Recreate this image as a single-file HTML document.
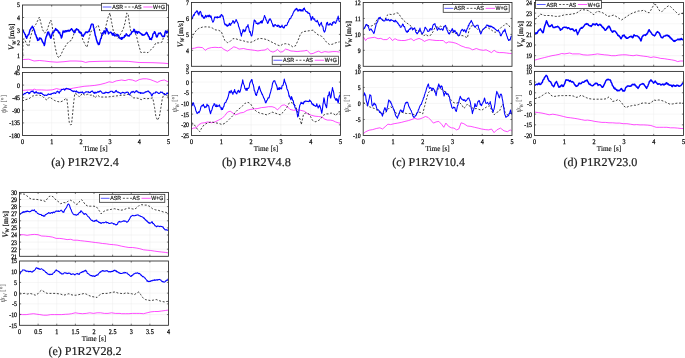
<!DOCTYPE html>
<html><head><meta charset="utf-8"><style>
html,body{margin:0;padding:0;background:#fff;}
svg{display:block;text-rendering:geometricPrecision;will-change:transform;}
.sf{font-family:"Liberation Serif",serif;}
.ss{font-family:"Liberation Sans",sans-serif;}
</style></head><body>
<svg width="685" height="358" viewBox="0 0 685 358">
<rect width="685" height="358" fill="#fff"/>
<defs><clipPath id="clip_a1"><rect x="22.5" y="5" width="146" height="62.65"/></clipPath><clipPath id="clip_a2"><rect x="22.5" y="72.5" width="146" height="63"/></clipPath><clipPath id="clip_b1"><rect x="191.5" y="2.5" width="149" height="63.8"/></clipPath><clipPath id="clip_b2"><rect x="191.5" y="71.4" width="149" height="64.1"/></clipPath><clipPath id="clip_c1"><rect x="363.2" y="2.5" width="148.8" height="63.8"/></clipPath><clipPath id="clip_c2"><rect x="363.2" y="71.4" width="148.8" height="64.1"/></clipPath><clipPath id="clip_d1"><rect x="534.5" y="2.5" width="149" height="63.8"/></clipPath><clipPath id="clip_d2"><rect x="534.5" y="71.4" width="149" height="64.1"/></clipPath><clipPath id="clip_e1"><rect x="19.5" y="192.4" width="149" height="63.9"/></clipPath><clipPath id="clip_e2"><rect x="19.5" y="261" width="149" height="64.3"/></clipPath></defs>
<path d="M51.7 5V67.65M80.9 5V67.65M110.1 5V67.65M139.3 5V67.65M22.5 55.12H168.5M22.5 42.59H168.5M22.5 30.06H168.5M22.5 17.53H168.5" stroke="#ebebeb" stroke-width="0.45" fill="none"/>
<g clip-path="url(#clip_a1)">
<path d="M22.1 59.6 L28.8 59.2 L34.1 61 L39.4 60.5 L44.6 61 L50 61.7 L57 62.2 L64 61.7 L70 61 L76 61 L82 61.3 L85.6 62.4 L89 61.7 L100 61.3 L118 61.1 L128.6 61.4 L139.2 62.5 L153 62.7 L164 63.2 L168.8 63.7" stroke="#ff00ff" stroke-width="0.7" fill="none"/>
<path d="M22.6 58 L22.8 48 L23 39 L24.5 39 L26.2 43 L27.5 45.5 L28.8 46.4 L30.6 36.7 L33.2 27.9 L35.8 24.4 L37.6 20.8 L39.4 17 L40.8 22.6 L42.5 29.6 L44.6 33.2 L47.3 29.6 L49 24.4 L50.8 20 L52 24.4 L53.5 36.7 L55.2 47.3 L57 55.2 L58.7 57.8 L60.8 55.2 L63.1 49.9 L65.8 45.5 L68.4 42 L71.5 40.2 L73.3 35.8 L75 29.6 L77.7 29.6 L80.3 32.3 L83 40.2 L85.6 45.5 L87 47.3 L88.8 39.3 L90.9 31.4 L93.5 30.5 L96.2 27 L98.3 25.2 L100 31.4 L102.3 35.8 L104.1 33.2 L105.9 26.1 L108.1 17.3 L109.9 12.9 L111.7 22.6 L113.4 31.4 L115.2 33.2 L118 38.5 L120.6 34.1 L123.3 28.8 L125.1 22.6 L126.8 12.9 L128.2 14.7 L129.5 24.4 L131.2 33.2 L133.9 30.6 L136.5 35.9 L138.3 43.8 L140.9 52.6 L144.5 52.3 L148 52.6 L150.6 50 L153.3 47.3 L155.9 42.9 L159.4 42.9 L162.1 42 L164.2 35 L166 30.6 L168.3 40.3" stroke="#111" stroke-width="0.8" stroke-dasharray="2 1.7" fill="none"/>
<path d="M22.1 30.19 L22.56 30.24 L23.02 30.26 L23.48 31.69 L23.94 32.38 L24.4 32.89 L24.86 34.37 L25.32 34.39 L25.78 36.85 L26.24 36.58 L26.7 38.24 L27.23 36.23 L27.75 35.67 L28.27 34.68 L28.8 34.46 L29.25 32.86 L29.7 31.04 L30.15 29.62 L30.6 29.14 L31.17 27.89 L31.73 27.8 L32.3 26.2 L32.75 27.63 L33.2 27.6 L33.65 28.74 L34.1 30.17 L34.67 31.28 L35.23 34.22 L35.8 34.84 L36.25 36.17 L36.7 37.93 L37.15 37.78 L37.6 40.43 L38.05 40.29 L38.5 39.69 L38.95 39.78 L39.4 37.93 L39.97 38.65 L40.53 38.17 L41.1 38.63 L41.55 39.33 L42 40.43 L42.45 41.77 L42.9 42.45 L43.37 42.99 L43.83 43.61 L44.3 45.51 L44.75 43.79 L45.2 40.97 L45.65 38.61 L46.1 36.97 L46.62 35.93 L47.15 34.62 L47.68 32.26 L48.2 32.33 L48.67 31.98 L49.13 34.76 L49.6 34.05 L50.2 36.88 L50.8 38.34 L51.25 37.34 L51.7 35.24 L52.15 33.7 L52.6 32.4 L53.17 33 L53.73 32.35 L54.3 30.46 L54.75 30.54 L55.2 30.03 L55.65 28.59 L56.1 29.19 L56.55 30.28 L57 29.8 L57.45 30.75 L57.9 30.51 L58.47 32.26 L59.03 32.97 L59.6 32.31 L60.05 34.03 L60.5 35.16 L60.95 35.84 L61.4 38.06 L61.97 36.67 L62.53 33.84 L63.1 30.9 L63.55 32.05 L64 31.41 L64.45 31.32 L64.9 32.19 L65.35 30.83 L65.8 31.11 L66.25 30.87 L66.7 31.59 L67.27 30.67 L67.83 30.59 L68.4 31.1 L68.87 30.15 L69.33 31.11 L69.8 30.66 L70.37 30.12 L70.93 29.54 L71.5 28.71 L71.95 29.22 L72.4 29.88 L72.85 30.8 L73.3 31.1 L73.87 32.1 L74.43 32.45 L75 32.45 L75.45 29.98 L75.9 30.24 L76.35 28.89 L76.8 28.8 L77.25 29.67 L77.7 29.84 L78.15 29.65 L78.6 30.26 L79.17 32.33 L79.73 31.55 L80.3 33.15 L80.75 32.52 L81.2 32.75 L81.65 34.13 L82.1 35.63 L82.67 35.33 L83.23 36.39 L83.8 35.29 L84.25 34.12 L84.7 34.1 L85.15 33.14 L85.6 32.07 L86.05 31.88 L86.5 31.97 L86.95 32.52 L87.4 32.64 L87.97 31.79 L88.53 31.18 L89.1 31.53 L89.55 29.36 L90 29.09 L90.45 27.76 L90.9 25.68 L91.47 24.26 L92.03 24.1 L92.6 24.14 L93.1 24.33 L93.6 27.73 L94.1 28.82 L94.7 32.12 L95.3 35.57 L95.87 36.87 L96.43 39.55 L97 41.24 L97.45 42.93 L97.9 42.54 L98.35 44.58 L98.8 44.46 L99.25 44.27 L99.7 42.58 L100.15 40.69 L100.6 38.82 L101.17 38.34 L101.73 35.36 L102.3 33.01 L102.75 33.02 L103.2 33.31 L103.65 32.19 L104.1 30.74 L104.7 31.85 L105.3 33.74 L105.77 31.91 L106.23 29.72 L106.7 28.56 L107.15 30.43 L107.6 31.15 L108.05 31.76 L108.5 33.89 L108.95 32.85 L109.4 32.85 L109.85 32.58 L110.3 32.23 L110.87 32.14 L111.43 32.92 L112 33.88 L112.45 35.11 L112.9 33.49 L113.35 35.01 L113.8 33.16 L114.37 35.55 L114.93 36.02 L115.5 35.15 L116 34.9 L116.5 34.75 L117 34.25 L117.5 35.67 L118 35.02 L118.45 35.24 L118.9 36.38 L119.35 37.92 L119.8 38.11 L120.37 38.59 L120.93 37.89 L121.5 39.37 L121.95 37.44 L122.4 38.76 L122.85 37.61 L123.3 37.36 L123.75 37.53 L124.2 37.27 L124.65 35.38 L125.1 36.19 L125.67 35.67 L126.23 33.82 L126.8 34.47 L127.25 34.84 L127.7 35.43 L128.15 35.98 L128.6 35.74 L129.17 36.07 L129.73 34.98 L130.3 34.3 L130.75 34.08 L131.2 33.72 L131.65 31.93 L132.1 31.74 L132.55 31.85 L133 31.43 L133.45 31.07 L133.9 29.26 L134.47 29.79 L135.03 31.39 L135.6 32.96 L136.05 31.85 L136.5 31.4 L136.95 31.61 L137.4 33.41 L137.85 32.1 L138.3 31.74 L138.75 31.9 L139.2 32.1 L139.77 32.57 L140.33 33.31 L140.9 33.35 L141.35 34.2 L141.8 34.7 L142.25 34.2 L142.7 35.23 L143.15 34.94 L143.6 35.18 L144.05 34.91 L144.5 34.85 L145.07 34.24 L145.63 33.69 L146.2 32.75 L146.65 32.39 L147.1 33.02 L147.55 34.48 L148 34.68 L148.57 36.48 L149.13 36.61 L149.7 39.18 L150.15 39.24 L150.6 38.54 L151.05 39.41 L151.5 39.57 L151.95 37.46 L152.4 37.31 L152.85 34.38 L153.3 33.72 L153.87 33.44 L154.43 31.74 L155 32.08 L155.45 33.48 L155.9 34.62 L156.35 36.6 L156.8 37.05 L157.25 36.76 L157.7 35.34 L158.15 34.32 L158.6 33.2 L159.17 33.47 L159.73 33.48 L160.3 32.83 L160.75 33.74 L161.2 33.89 L161.65 35.21 L162.1 35.89 L162.55 36.54 L163 36.46 L163.45 36.64 L163.9 36.63 L164.47 36.18 L165.03 32.91 L165.6 30.95 L166.05 31.58 L166.5 31.28 L166.95 32.91 L167.4 31.94 L167.87 31.19 L168.33 32.21 L168.8 31.28" stroke="#0000ff" stroke-width="1.45" fill="none" stroke-linejoin="round"/>
</g>
<path d="M51.7 67.65v-1.6M51.7 5v1.6M80.9 67.65v-1.6M80.9 5v1.6M110.1 67.65v-1.6M110.1 5v1.6M139.3 67.65v-1.6M139.3 5v1.6M22.5 55.12h1.6M168.5 55.12h-1.6M22.5 42.59h1.6M168.5 42.59h-1.6M22.5 30.06h1.6M168.5 30.06h-1.6M22.5 17.53h1.6M168.5 17.53h-1.6" stroke="#262626" stroke-width="0.6" fill="none"/>
<rect x="22.5" y="5" width="146" height="62.65" stroke="#262626" stroke-width="0.85" fill="none"/>
<text transform="translate(20 70.1) scale(0.86 1)" font-size="6.8" text-anchor="end" class="sf" fill="#000" stroke="#000" stroke-width="0.25">0</text>
<text transform="translate(20 57.57) scale(0.86 1)" font-size="6.8" text-anchor="end" class="sf" fill="#000" stroke="#000" stroke-width="0.25">1</text>
<text transform="translate(20 45.04) scale(0.86 1)" font-size="6.8" text-anchor="end" class="sf" fill="#000" stroke="#000" stroke-width="0.25">2</text>
<text transform="translate(20 32.51) scale(0.86 1)" font-size="6.8" text-anchor="end" class="sf" fill="#000" stroke="#000" stroke-width="0.25">3</text>
<text transform="translate(20 19.98) scale(0.86 1)" font-size="6.8" text-anchor="end" class="sf" fill="#000" stroke="#000" stroke-width="0.25">4</text>
<text transform="translate(20 7.45) scale(0.86 1)" font-size="6.8" text-anchor="end" class="sf" fill="#000" stroke="#000" stroke-width="0.25">5</text>
<path d="M51.7 72.5V135.5M80.9 72.5V135.5M110.1 72.5V135.5M139.3 72.5V135.5M22.5 122.9H168.5M22.5 110.3H168.5M22.5 97.7H168.5M22.5 85.1H168.5" stroke="#ebebeb" stroke-width="0.45" fill="none"/>
<g clip-path="url(#clip_a2)">
<path d="M22.1 90.4 L25.4 90.2 L28.9 89.9 L32.5 89.9 L34.3 89.1 L36.1 89.9 L41.4 89.9 L46.8 90.2 L52.1 89.9 L56.6 88.6 L59.3 89.3 L62.9 89.3 L66.4 89 L68 89.3 L73.4 88.1 L78.7 87.2 L84.1 86.3 L89.4 85.9 L94.8 85.4 L100.1 84.5 L105.5 83.1 L109.1 81.8 L112.6 82.4 L116.2 80.9 L118 80.6 L121.6 80 L125.1 80.6 L128.7 79.5 L132.3 80 L135.9 81.3 L139.4 79.5 L143 78.8 L146.6 78.8 L150.1 79.5 L153.7 80.9 L157.3 82.4 L160.9 80.6 L164.4 80 L168 81.8" stroke="#ff00ff" stroke-width="0.7" fill="none"/>
<path d="M22.1 101.1 L25.4 99.7 L28.9 98.8 L32.5 96.1 L36.1 95.2 L39.6 95.2 L42.3 96.1 L45 98.8 L46.8 100 L49.5 97 L52.1 98.8 L54.8 100.6 L57.5 101.5 L60.2 102 L62.9 100.9 L65.5 98.8 L66.8 98.4 L67.9 107.7 L68.6 116.6 L69.3 122.5 L70.5 124.8 L71.5 124.5 L72.5 114.9 L73.7 102.4 L74.8 93.4 L76.9 94.3 L79.6 97 L82.3 93.4 L85 95.2 L87.6 94.3 L90.3 95.2 L93 94.9 L94.8 97.9 L97.5 95.2 L100.1 97 L103.7 97 L107.3 97 L110.9 96.6 L114.4 96.1 L118 95.8 L121.6 95.2 L125.1 95.2 L127.8 94.3 L130.5 95.2 L133.2 97.9 L135.9 97.9 L138.5 98.4 L141.2 99.7 L143.9 98.4 L146.6 98.8 L150.1 98.4 L152.8 97.9 L154.6 107.7 L155.9 116.6 L157.6 120.2 L159.4 116.6 L160.9 107.7 L162.3 98.8 L164.1 93.4 L166.2 94.3 L168.9 98.8" stroke="#111" stroke-width="0.8" stroke-dasharray="2 1.7" fill="none"/>
<path d="M22.1 95.17 L22.58 94.96 L23.06 94.92 L23.54 94.51 L24.02 93.93 L24.5 93.35 L25.02 93.87 L25.54 93.44 L26.06 92.82 L26.58 92.5 L27.1 92.48 L27.55 92.15 L28 92.44 L28.45 92.62 L28.9 93.8 L29.35 92.75 L29.8 93.32 L30.25 92.3 L30.7 91.76 L31.15 91.64 L31.6 91.24 L32.05 91.75 L32.5 91.4 L32.95 90.76 L33.4 91.78 L33.85 92.3 L34.3 93.2 L34.75 92.4 L35.2 92.86 L35.65 92.05 L36.1 91.51 L36.55 92.48 L37 93 L37.45 92.72 L37.9 93.16 L38.47 92.76 L39.03 93.58 L39.6 93.35 L40.05 92.8 L40.5 93.49 L40.95 92.84 L41.4 93.53 L41.85 93 L42.3 93.84 L42.75 94.43 L43.2 94.53 L43.65 94.73 L44.1 95.31 L44.55 95.58 L45 95.02 L45.45 95.15 L45.9 95.21 L46.35 95.45 L46.8 95.13 L47.25 94.9 L47.7 94.95 L48.15 93.9 L48.6 93.95 L49.05 94.24 L49.5 94.45 L49.95 94.42 L50.4 93.98 L50.97 94.65 L51.53 93.76 L52.1 93.44 L52.55 93.31 L53 93.66 L53.45 92.99 L53.9 92.89 L54.35 92.69 L54.8 93.17 L55.25 93.55 L55.7 93.57 L56.15 92.18 L56.6 91.87 L57.05 91.99 L57.5 91.14 L57.95 91.77 L58.4 91.82 L58.85 92.75 L59.3 93.18 L59.75 91.78 L60.2 91.09 L60.65 91.2 L61.1 90.49 L61.55 89.43 L62 89.62 L62.45 89.41 L62.9 89.24 L63.47 89 L64.03 89.07 L64.6 90.15 L65.05 89.76 L65.5 88.86 L65.95 89.01 L66.4 88.21 L66.93 88.46 L67.47 88.8 L68 88.69 L68.54 88.74 L69.08 89.46 L69.62 89.19 L70.16 89.55 L70.7 89.49 L71.24 90.54 L71.78 90.64 L72.32 91.22 L72.86 90.87 L73.4 91.55 L73.92 91.19 L74.44 90.99 L74.96 91.27 L75.48 91.83 L76 91.26 L76.54 90.84 L77.08 92.3 L77.62 92.1 L78.16 91.94 L78.7 92.85 L79.24 93 L79.78 92.26 L80.32 92.65 L80.86 92.08 L81.4 92.3 L81.94 92.75 L82.48 91.91 L83.02 92.96 L83.56 93.46 L84.1 92.98 L84.64 92.86 L85.18 92.31 L85.72 91.85 L86.26 91.78 L86.8 91.92 L87.32 91.92 L87.84 92.05 L88.36 91.61 L88.88 92.72 L89.4 92.57 L89.94 92.23 L90.48 92.47 L91.02 91.5 L91.56 91.51 L92.1 90.79 L92.64 91.67 L93.18 91.95 L93.72 92.98 L94.26 92.21 L94.8 93.4 L95.34 92.99 L95.88 92.17 L96.42 92.84 L96.96 92.52 L97.5 92.14 L98.02 91.44 L98.54 92.28 L99.06 91.62 L99.58 91.86 L100.1 90.77 L100.64 91.1 L101.18 91.75 L101.72 92.17 L102.26 93.11 L102.8 93.35 L103.34 93.15 L103.88 93.54 L104.42 92.78 L104.96 93.2 L105.5 92.27 L106.04 92.11 L106.58 92.6 L107.12 92.43 L107.66 92.93 L108.2 92.49 L108.74 92.94 L109.28 91.94 L109.82 92.11 L110.36 91.56 L110.9 91.28 L111.42 91.22 L111.94 91.26 L112.46 91.55 L112.98 92.41 L113.5 92.25 L114.04 92.71 L114.58 91.98 L115.12 92.05 L115.66 90.65 L116.2 90.4 L116.65 91.53 L117.1 91.84 L117.55 92.29 L118 91.76 L118.54 92.43 L119.08 92.75 L119.62 92.62 L120.16 93.26 L120.7 93.8 L121.15 93.08 L121.6 93.01 L122.05 92.82 L122.5 92.24 L123.02 92.36 L123.54 92.65 L124.06 92.59 L124.58 93.3 L125.1 93.17 L125.64 92.7 L126.18 92.12 L126.72 92.45 L127.26 92.24 L127.8 92.1 L128.25 92.39 L128.7 93.7 L129.15 94.54 L129.6 94.89 L130.05 94.09 L130.5 93.07 L130.95 92.76 L131.4 91.84 L131.94 91.95 L132.48 92.28 L133.02 91.32 L133.56 91.66 L134.1 92.36 L134.64 92.64 L135.18 91.83 L135.72 90.97 L136.26 91.15 L136.8 90.7 L137.32 92.02 L137.84 91.79 L138.36 92.17 L138.88 92.82 L139.4 92.76 L139.94 92.3 L140.48 93.46 L141.02 92.64 L141.56 93.26 L142.1 92.9 L142.64 93.29 L143.18 93.03 L143.72 93.23 L144.26 92.72 L144.8 92.44 L145.34 91.79 L145.88 92.2 L146.42 91.61 L146.96 91.81 L147.5 91.39 L147.96 90.95 L148.42 91.5 L148.88 91.32 L149.34 92.7 L149.8 92.61 L150.33 92.81 L150.85 93.45 L151.38 95.26 L151.9 96.04 L152.35 94.7 L152.8 93.82 L153.25 93.82 L153.7 93.08 L154.24 92.98 L154.78 93.08 L155.32 93.05 L155.86 91.85 L156.4 92.11 L156.94 92.03 L157.48 92.69 L158.02 92.7 L158.56 93.51 L159.1 93.57 L159.64 93.06 L160.18 92.81 L160.72 91.88 L161.26 92.38 L161.8 92.18 L162.32 92.12 L162.84 93.22 L163.36 93.21 L163.88 93.44 L164.4 94.72 L164.94 94.74 L165.48 94.6 L166.02 94.09 L166.56 93.75 L167.1 92.72 L167.55 93.69 L168 93.25 L168.45 93.09 L168.9 93.47" stroke="#0000ff" stroke-width="1.1" fill="none" stroke-linejoin="round"/>
</g>
<path d="M51.7 135.5v-1.6M51.7 72.5v1.6M80.9 135.5v-1.6M80.9 72.5v1.6M110.1 135.5v-1.6M110.1 72.5v1.6M139.3 135.5v-1.6M139.3 72.5v1.6M22.5 122.9h1.6M168.5 122.9h-1.6M22.5 110.3h1.6M168.5 110.3h-1.6M22.5 97.7h1.6M168.5 97.7h-1.6M22.5 85.1h1.6M168.5 85.1h-1.6" stroke="#262626" stroke-width="0.6" fill="none"/>
<rect x="22.5" y="72.5" width="146" height="63" stroke="#262626" stroke-width="0.85" fill="none"/>
<text transform="translate(20 137.95) scale(0.86 1)" font-size="6.8" text-anchor="end" class="sf" fill="#000" stroke="#000" stroke-width="0.25">-180</text>
<text transform="translate(20 125.35) scale(0.86 1)" font-size="6.8" text-anchor="end" class="sf" fill="#000" stroke="#000" stroke-width="0.25">-135</text>
<text transform="translate(20 112.75) scale(0.86 1)" font-size="6.8" text-anchor="end" class="sf" fill="#000" stroke="#000" stroke-width="0.25">-90</text>
<text transform="translate(20 100.15) scale(0.86 1)" font-size="6.8" text-anchor="end" class="sf" fill="#000" stroke="#000" stroke-width="0.25">-45</text>
<text transform="translate(20 87.55) scale(0.86 1)" font-size="6.8" text-anchor="end" class="sf" fill="#000" stroke="#000" stroke-width="0.25">0</text>
<text transform="translate(20 74.95) scale(0.86 1)" font-size="6.8" text-anchor="end" class="sf" fill="#000" stroke="#000" stroke-width="0.25">45</text>
<text transform="translate(22.5 144.05) scale(0.86 1)" font-size="7.1" text-anchor="middle" class="sf" fill="#000" stroke="#000" stroke-width="0.25">0</text>
<text transform="translate(51.7 144.05) scale(0.86 1)" font-size="7.1" text-anchor="middle" class="sf" fill="#000" stroke="#000" stroke-width="0.25">1</text>
<text transform="translate(80.9 144.05) scale(0.86 1)" font-size="7.1" text-anchor="middle" class="sf" fill="#000" stroke="#000" stroke-width="0.25">2</text>
<text transform="translate(110.1 144.05) scale(0.86 1)" font-size="7.1" text-anchor="middle" class="sf" fill="#000" stroke="#000" stroke-width="0.25">3</text>
<text transform="translate(139.3 144.05) scale(0.86 1)" font-size="7.1" text-anchor="middle" class="sf" fill="#000" stroke="#000" stroke-width="0.25">4</text>
<text transform="translate(168.5 144.05) scale(0.86 1)" font-size="7.1" text-anchor="middle" class="sf" fill="#000" stroke="#000" stroke-width="0.25">5</text>
<text x="95.5" y="150.7" font-size="7.7" text-anchor="middle" class="sf" fill="#000" textLength="24.3" lengthAdjust="spacingAndGlyphs" stroke="#000" stroke-width="0.12">Time [s]</text>
<text x="85" y="166.1" font-size="12.0" text-anchor="middle" class="sf" fill="#222" textLength="67.6" lengthAdjust="spacingAndGlyphs" stroke="#222" stroke-width="0.2">(a) P1R2V2.4</text>
<text transform="translate(12 36.7) rotate(-90)" x="0" y="2" font-size="7.4" text-anchor="middle" class="sf" fill="#111" stroke="#111" stroke-width="0.18" textLength="26.5" lengthAdjust="spacingAndGlyphs"><tspan font-style="italic" font-size="8.14">V</tspan><tspan font-size="5.33" dy="1.63" font-style="italic">W</tspan><tspan dy="-1.63"> [m/s]</tspan></text>
<text transform="translate(3.5 104) rotate(-90)" x="0" y="2" font-size="7.4" text-anchor="middle" class="sf" fill="#555" stroke="#555" stroke-width="0.05" textLength="18" lengthAdjust="spacingAndGlyphs"><tspan font-style="italic" font-size="7.77">ψ</tspan><tspan font-size="5.33" dy="1.63" font-style="italic">W</tspan><tspan dy="-1.63"> [°]</tspan></text>
<rect x="101.5" y="3.3" width="65" height="7.4" fill="#fff" stroke="#262626" stroke-width="0.75"/>
<path d="M102.7 7H111.4" stroke="#0000ff" stroke-width="0.65"/>
<text x="112.2" y="9.12" font-size="5.9" text-anchor="start" class="ss" fill="#1a1a1a" textLength="10.8" lengthAdjust="spacingAndGlyphs" stroke="#1a1a1a" stroke-width="0.2">ASR</text>
<path d="M124.7 7H134.7" stroke="#222" stroke-width="0.75" stroke-dasharray="2 1.6"/>
<text x="134.4" y="9.12" font-size="5.9" text-anchor="start" class="ss" fill="#1a1a1a" textLength="7.1" lengthAdjust="spacingAndGlyphs" stroke="#1a1a1a" stroke-width="0.2">AS</text>
<path d="M143.3 7H152.5" stroke="#ff00ff" stroke-width="0.65"/>
<text x="153" y="9.12" font-size="5.9" text-anchor="start" class="ss" fill="#1a1a1a" textLength="12" lengthAdjust="spacingAndGlyphs" stroke="#1a1a1a" stroke-width="0.2">W+G</text>
<path d="M221.3 2.5V66.3M251.1 2.5V66.3M280.9 2.5V66.3M310.7 2.5V66.3M191.5 50.35H340.5M191.5 34.4H340.5M191.5 18.45H340.5" stroke="#ebebeb" stroke-width="0.45" fill="none"/>
<g clip-path="url(#clip_b1)">
<path d="M191.4 48.6 L194.5 48.2 L198 47.2 L202.5 47.6 L205.2 50.3 L207.9 48.5 L211.4 47.6 L215 47.3 L218.6 47.6 L221.3 47.3 L223.9 49.4 L227.5 51.2 L230.2 49.4 L233.8 46.8 L236.4 47.6 L239.1 49.1 L243.6 48.5 L247.1 49.4 L250.7 49.8 L254.3 50.3 L257.9 50.9 L261.4 50.3 L265 50 L267.7 48.5 L270.4 51.2 L273 52.1 L275.7 50.9 L277.5 49.4 L280.2 52.1 L282.9 51.6 L285.5 49.1 L288.2 49.8 L290.9 51 L293.6 51.2 L297.1 51.6 L300.7 51.2 L304.3 50.9 L307 50.3 L308.8 52.1 L310.5 53.9 L313.2 53.4 L315.9 52.1 L318.6 51.2 L321.3 52.6 L324.8 51.6 L328.4 52.1 L332.9 51.6 L336.4 51.6 L339.6 52.1" stroke="#ff00ff" stroke-width="0.7" fill="none"/>
<path d="M191.6 38.5 L193.6 34.2 L196.3 30.4 L198.9 28.3 L202.5 27.1 L206.1 26.8 L209.6 27.1 L212.3 28 L215 29.8 L218.6 30.3 L221.3 31.6 L223 36 L224.8 40.5 L227.5 42.6 L230.2 41.4 L232.9 38.7 L235.5 38.7 L238.2 39.6 L240 40.1 L243.6 40.9 L247.1 41.9 L250.7 42.3 L253.4 41.4 L256.1 39.6 L259.6 38.4 L263.2 38.7 L266.8 39.6 L270.4 41.4 L273.9 43.2 L277.5 45 L280.2 45.9 L282.9 44.1 L285.5 43.7 L288.2 44.1 L290.9 45.5 L292.7 46.8 L295.4 45.9 L298 40.5 L300.7 33.4 L303.4 31.6 L306.1 31.2 L309.6 30.7 L313.2 30.1 L315.9 33.4 L318.6 35.1 L321.3 36 L323.9 38.7 L326.6 42.3 L329.3 44.4 L332 44.4 L334.6 43.2 L337.3 42.3 L339.6 41.9" stroke="#111" stroke-width="0.8" stroke-dasharray="2 1.7" fill="none"/>
<path d="M191.4 19.56 L191.95 18.99 L192.5 17.74 L193.05 16.22 L193.6 14.65 L194.05 15.43 L194.5 14.37 L194.95 12.95 L195.4 12.24 L195.97 12.38 L196.53 11.07 L197.1 10.82 L197.55 11.37 L198 13.85 L198.45 12.93 L198.9 15.07 L199.4 12.94 L199.9 11.74 L200.4 11.37 L200.97 12.6 L201.53 15.53 L202.1 16.88 L202.55 15.2 L203 16.83 L203.45 17.29 L203.9 18.46 L204.35 17.04 L204.8 17.92 L205.25 16.35 L205.7 15.23 L206.15 16.58 L206.6 17.09 L207.05 15.9 L207.5 16.28 L207.95 15.35 L208.4 16.76 L208.85 16.01 L209.3 14.96 L209.75 16.65 L210.2 15.76 L210.65 17.44 L211.1 16.08 L211.55 18.37 L212 20.18 L212.45 21.03 L212.9 22.19 L213.47 21.38 L214.03 20.01 L214.6 16.99 L215.05 17.17 L215.5 17.12 L215.95 17.58 L216.4 16.94 L216.85 17.15 L217.3 17.94 L217.75 16.64 L218.2 17.36 L218.65 17.47 L219.1 17.47 L219.55 17.15 L220 15.96 L220.45 17.12 L220.9 15.29 L221.35 14.61 L221.8 14.63 L222.4 16.3 L223 16.04 L223.43 18.72 L223.87 20.03 L224.3 22.87 L224.77 24.15 L225.23 24.92 L225.7 24.01 L226.15 24.47 L226.6 25.87 L227.05 25.28 L227.5 26.2 L227.95 25 L228.4 25.6 L228.85 25.36 L229.3 23.27 L229.75 23.44 L230.2 25.14 L230.65 25.24 L231.1 23.63 L231.55 23.57 L232 22.73 L232.45 22.01 L232.9 20.64 L233.47 20.91 L234.03 23.14 L234.6 23.22 L235.1 21.29 L235.6 21.31 L236.1 19.52 L236.7 20.69 L237.3 21.99 L237.75 22.88 L238.2 24.05 L238.65 26.59 L239.1 27.29 L239.55 29 L240 29.83 L240.45 32.64 L240.9 33.77 L241.4 36.14 L241.85 33.38 L242.3 32.73 L242.75 30.83 L243.2 29.4 L243.65 30.33 L244.1 31.83 L244.55 31.23 L245 30.02 L245.45 31.07 L245.9 28.91 L246.35 26.85 L246.8 26.9 L247.4 26.69 L248 24.63 L248.43 27.34 L248.87 28.22 L249.3 30.84 L249.77 32.42 L250.23 31.5 L250.7 34.17 L251.25 35.9 L251.8 35.88 L252.35 33.35 L252.9 29.92 L253.37 25.93 L253.83 22.65 L254.3 19.97 L254.77 20.41 L255.23 21.15 L255.7 21.11 L256.17 23.54 L256.63 23.38 L257.1 23.17 L257.67 24.09 L258.23 22.93 L258.8 24.03 L259.37 22.76 L259.93 22.9 L260.5 21.53 L260.95 22.76 L261.4 20.86 L261.85 23.04 L262.3 22.98 L262.73 20.4 L263.17 20.42 L263.6 18.58 L264.07 17.32 L264.53 15.44 L265 16.67 L265.47 17.46 L265.93 19.93 L266.4 19.86 L266.83 21.06 L267.27 22.49 L267.7 23.45 L268.17 22.95 L268.63 21.21 L269.1 19.65 L269.53 20.16 L269.97 18.57 L270.4 19.66 L270.87 19.91 L271.33 21.01 L271.8 22.72 L272.4 23.74 L273 26.27 L273.45 25.28 L273.9 26.81 L274.35 24.9 L274.8 25.02 L275.25 24.5 L275.7 25.23 L276.15 25.57 L276.6 25.99 L277.05 25.78 L277.5 26.53 L277.95 25.01 L278.4 25.7 L278.85 25.34 L279.3 27.26 L279.75 26.25 L280.2 26.68 L280.65 27.42 L281.1 26.62 L281.55 26.63 L282 25.07 L282.45 26.7 L282.9 27.41 L283.35 27.01 L283.8 28.14 L284.37 27.37 L284.93 25.43 L285.5 25.23 L285.95 25.75 L286.4 25.54 L286.85 25.14 L287.3 24.36 L287.75 22.46 L288.2 22.43 L288.65 21.2 L289.1 19.97 L289.55 18.65 L290 18.98 L290.45 18.37 L290.9 18.06 L291.44 16.02 L291.98 15.85 L292.52 14.93 L293.06 13.28 L293.6 12.27 L294.05 10.94 L294.5 10.98 L294.95 9.88 L295.4 8.95 L295.97 9.94 L296.53 8.34 L297.1 8.95 L297.55 9.97 L298 11.27 L298.45 10.58 L298.9 9.68 L299.35 10.13 L299.8 9.4 L300.25 11.04 L300.7 9.62 L301.15 9.78 L301.6 10.99 L302.05 10.84 L302.5 9.84 L302.95 11.13 L303.4 8.6 L303.85 9.17 L304.3 7.94 L304.75 9.55 L305.2 9.97 L305.65 11.31 L306.1 11.27 L306.55 11.74 L307 11.52 L307.45 12.95 L307.9 12.21 L308.47 13.22 L309.03 13.36 L309.6 13.42 L310.1 15.9 L310.6 16.74 L311.1 20.36 L311.7 19.02 L312.3 16.62 L312.75 16.69 L313.2 18.92 L313.65 19.19 L314.1 18.79 L314.55 18.73 L315 20.55 L315.45 20.99 L315.9 21.25 L316.35 21.62 L316.8 21.89 L317.25 20.26 L317.7 21.66 L318.15 22.24 L318.6 24.25 L319.05 24.7 L319.5 26.12 L319.95 24.77 L320.4 23.86 L320.85 23.74 L321.3 22.3 L321.87 24.97 L322.43 26.33 L323 26.76 L323.43 29.91 L323.87 30.91 L324.3 32.11 L324.85 31.63 L325.4 29.9 L326 26.78 L326.6 22.95 L327.05 23.1 L327.5 22.22 L327.95 25.07 L328.4 25.05 L328.85 24.55 L329.3 24.91 L329.75 23.79 L330.2 23.45 L330.65 24.13 L331.1 24.72 L331.55 24.61 L332 25.35 L332.45 22.59 L332.9 23.59 L333.35 21.84 L333.8 21.96 L334.37 21.76 L334.93 22.83 L335.5 23.43 L335.95 22.63 L336.4 20.75 L336.85 20.79 L337.3 18.25 L337.75 18.14 L338.2 16.11 L338.67 19.34 L339.13 21.01 L339.6 21.96" stroke="#0000ff" stroke-width="1.1" fill="none" stroke-linejoin="round"/>
</g>
<path d="M221.3 66.3v-1.6M221.3 2.5v1.6M251.1 66.3v-1.6M251.1 2.5v1.6M280.9 66.3v-1.6M280.9 2.5v1.6M310.7 66.3v-1.6M310.7 2.5v1.6M191.5 50.35h1.6M340.5 50.35h-1.6M191.5 34.4h1.6M340.5 34.4h-1.6M191.5 18.45h1.6M340.5 18.45h-1.6" stroke="#262626" stroke-width="0.6" fill="none"/>
<rect x="191.5" y="2.5" width="149" height="63.8" stroke="#262626" stroke-width="0.85" fill="none"/>
<text transform="translate(189 68.75) scale(0.86 1)" font-size="6.8" text-anchor="end" class="sf" fill="#000" stroke="#000" stroke-width="0.25">3</text>
<text transform="translate(189 52.8) scale(0.86 1)" font-size="6.8" text-anchor="end" class="sf" fill="#000" stroke="#000" stroke-width="0.25">4</text>
<text transform="translate(189 36.85) scale(0.86 1)" font-size="6.8" text-anchor="end" class="sf" fill="#000" stroke="#000" stroke-width="0.25">5</text>
<text transform="translate(189 20.9) scale(0.86 1)" font-size="6.8" text-anchor="end" class="sf" fill="#000" stroke="#000" stroke-width="0.25">6</text>
<text transform="translate(189 4.95) scale(0.86 1)" font-size="6.8" text-anchor="end" class="sf" fill="#000" stroke="#000" stroke-width="0.25">7</text>
<path d="M221.3 71.4V135.5M251.1 71.4V135.5M280.9 71.4V135.5M310.7 71.4V135.5M191.5 124.82H340.5M191.5 114.13H340.5M191.5 103.45H340.5M191.5 92.77H340.5M191.5 82.08H340.5" stroke="#ebebeb" stroke-width="0.45" fill="none"/>
<g clip-path="url(#clip_b2)">
<path d="M191.4 129 L193.6 128.1 L196.3 127.8 L198.9 124.6 L201.6 123.1 L204.3 122.8 L207.9 121.9 L211.4 122.8 L215 121.9 L218.6 120.1 L222.1 118.3 L224.8 115.6 L227.5 112.1 L230.2 111.2 L232.9 113 L235.5 114.8 L238.2 113.9 L240 113 L243.6 112.4 L247.1 110.3 L250.7 109.4 L254.3 108.9 L257.9 108.5 L261.4 107.6 L265 107.3 L268.6 106.7 L272.1 106.7 L274.8 107.6 L277.5 109.9 L279.6 107.6 L282 105.3 L284.6 104.9 L287.3 106.7 L290 109.4 L293.6 110.3 L297.1 109.9 L300.7 110.3 L304.3 111.2 L307.9 113.9 L311.4 115.3 L315 116.2 L318.6 116.5 L322.1 117.1 L324.8 119.2 L327.5 120.1 L330.2 120.1 L332.9 120.6 L335.5 121.9 L338.2 122.8 L340 123.1" stroke="#ff00ff" stroke-width="0.7" fill="none"/>
<path d="M191.4 122.8 L193.6 123.7 L195.4 126.4 L198 130 L199.8 131.7 L201.6 128.1 L204.3 124.6 L207.9 122.8 L211.4 121.9 L215 122.8 L218.6 123.3 L222.1 124.6 L225.7 122.8 L229.3 119.2 L232.9 115.6 L235.5 112.1 L238.2 109.4 L240 108.1 L242.7 105.8 L245.4 103.1 L248 102.3 L250.7 104 L253.4 108.5 L256.1 111.2 L259.6 113 L263.2 113.9 L266.8 114.8 L269.5 113.5 L272.1 112.1 L274.8 113 L277.5 113.9 L280.2 114.8 L282.9 112.4 L285.5 109.4 L287.3 106.7 L289.1 103.1 L290.5 102.3 L292.7 103.1 L295.4 105.8 L297.1 110.3 L298.9 116.5 L300.4 120.1 L301.3 124.6 L302.1 121 L303.4 114.8 L305.2 113 L307 113 L308.8 113.9 L310.5 116.5 L312.3 120.1 L315 121.9 L317.7 121 L320.4 119.2 L323 115.6 L325.7 113.9 L328.4 113.9 L331.1 113 L333.8 113.9 L336.1 115.6 L338.2 112.1 L340 111.7" stroke="#111" stroke-width="0.8" stroke-dasharray="2 1.7" fill="none"/>
<path d="M191.4 106.74 L191.83 105.59 L192.27 105.45 L192.7 103.29 L193.15 102.7 L193.6 103.48 L194.05 105.51 L194.5 106.3 L195.1 107.2 L195.7 110.21 L196.17 111.16 L196.63 112.15 L197.1 113.6 L197.6 113.12 L198.1 112.68 L198.6 111.76 L199.07 112.64 L199.53 111.5 L200 110.79 L200.53 108.65 L201.07 106.46 L201.6 106.15 L202.05 105.2 L202.5 105.27 L202.95 105.8 L203.4 104.38 L203.85 105.92 L204.3 106.32 L204.75 107.72 L205.2 106.72 L205.65 107.25 L206.1 107 L206.55 106.97 L207 104.08 L207.45 105.6 L207.9 105.26 L208.35 105.54 L208.8 106.08 L209.37 109.62 L209.93 111.52 L210.5 113.7 L210.95 112.38 L211.4 110.43 L211.85 110.23 L212.3 108.4 L212.75 106.6 L213.2 105.82 L213.65 105.57 L214.1 103.58 L214.55 103.92 L215 104.45 L215.45 106.38 L215.9 106.19 L216.35 106.61 L216.8 104.73 L217.25 106.53 L217.7 106.03 L218.15 106.09 L218.6 106.03 L219.05 105.39 L219.5 104.82 L219.95 106.92 L220.4 107.11 L220.85 107.28 L221.3 109.66 L221.9 107.93 L222.5 109.45 L222.97 108.16 L223.43 106.9 L223.9 106.39 L224.4 103.79 L224.9 102.91 L225.4 102.4 L226 102.13 L226.6 99.92 L227.03 99.82 L227.47 98.81 L227.9 97.55 L228.37 95.86 L228.83 93.85 L229.3 91.25 L229.75 91.87 L230.2 92.81 L230.65 92.04 L231.1 90.38 L231.55 91.35 L232 92.83 L232.45 92.64 L232.9 94.33 L233.47 91.9 L234.03 91.89 L234.6 89.44 L235.05 92.33 L235.5 91.86 L235.95 93.04 L236.4 93.63 L236.85 93.81 L237.3 91.94 L237.75 91.15 L238.2 90.62 L238.65 90.34 L239.1 92.41 L239.55 91.62 L240 91.96 L240.47 90.03 L240.93 88.16 L241.4 85.94 L241.83 84.25 L242.27 83.12 L242.7 79.92 L243.3 83.08 L243.9 84.66 L244.4 85.85 L244.9 88.73 L245.4 88.64 L245.97 90.26 L246.53 88.4 L247.1 90.35 L247.6 88.21 L248.1 88.53 L248.6 88.34 L249.2 87 L249.8 83.26 L250.25 82.21 L250.7 81.76 L251.15 80.39 L251.6 79.57 L252.03 79.81 L252.47 82.86 L252.9 83.99 L253.37 85.07 L253.83 87.32 L254.3 90.62 L254.75 90.94 L255.2 92.9 L255.65 94.91 L256.1 94.91 L256.55 95.54 L257 92.52 L257.45 92.61 L257.9 90.01 L258.37 89.51 L258.83 87.18 L259.3 86.32 L259.9 88.78 L260.5 90.45 L260.95 91.8 L261.4 92.09 L261.85 94.24 L262.3 93.97 L262.75 95.43 L263.2 96.3 L263.65 97.88 L264.1 98.26 L264.55 99.62 L265 100.71 L265.45 102.73 L265.9 102.84 L266.35 101.73 L266.8 100.47 L267.25 100.07 L267.7 99.09 L268.15 97.71 L268.6 97.73 L269.05 97.9 L269.5 95.91 L269.95 94.16 L270.4 92.84 L270.85 91.14 L271.3 89.11 L271.87 87.65 L272.43 83.99 L273 82.23 L273.43 81.39 L273.87 80.91 L274.3 80.87 L274.77 80.76 L275.23 82.47 L275.7 83.31 L276.15 84.62 L276.6 85.52 L277.05 86.93 L277.5 89.75 L277.95 88.48 L278.4 88.18 L278.85 89.5 L279.3 87.56 L279.75 89.37 L280.2 87.84 L280.65 88.28 L281.1 88.53 L281.55 88.89 L282 85.83 L282.45 85.77 L282.9 85.59 L283.37 83.94 L283.83 82.21 L284.3 78.99 L284.9 82 L285.5 83 L285.95 84.9 L286.4 85.54 L286.85 88.39 L287.3 89.63 L287.75 90.4 L288.2 91.65 L288.65 93.57 L289.1 96.46 L289.55 95.94 L290 97.89 L290.45 98.3 L290.9 99.81 L291.4 96.61 L291.83 97.24 L292.27 98.86 L292.7 100.35 L293.3 100.78 L293.9 104.81 L294.4 104.59 L294.9 107.21 L295.4 108.23 L295.87 108.94 L296.33 109.8 L296.8 111.74 L297.25 113.99 L297.7 116.93 L298.15 115.73 L298.6 113.67 L299.2 108.64 L299.8 105.38 L300.23 104.43 L300.67 103.43 L301.1 102.18 L301.57 103.44 L302.03 103.34 L302.5 103.62 L302.95 102.85 L303.4 103.89 L303.85 102.19 L304.3 101.36 L304.75 102.04 L305.2 101.15 L305.65 101.09 L306.1 100.99 L306.55 101.17 L307 101.47 L307.45 101.34 L307.9 101.52 L308.47 101.6 L309.03 101.29 L309.6 99.91 L310.05 101.33 L310.5 100.91 L310.95 101.63 L311.4 102.03 L311.85 103.8 L312.3 104.26 L312.75 103.74 L313.2 105.14 L313.65 104.48 L314.1 105.6 L314.55 105.76 L315 105.53 L315.45 106.29 L315.9 106.33 L316.35 105.84 L316.8 103.69 L317.27 105.8 L317.73 106.26 L318.2 108.06 L318.63 106.72 L319.07 106.64 L319.5 105 L320.1 106.77 L320.7 108.47 L321.25 111 L321.8 113.25 L322.4 109.32 L323 104.12 L323.45 101.76 L323.9 97.77 L324.4 99.52 L324.9 103.45 L325.4 104.41 L326 106.32 L326.6 107.66 L327.03 103.77 L327.47 99.72 L327.9 95.49 L328.37 95.78 L328.83 94.84 L329.3 91.86 L329.77 93.99 L330.23 96.92 L330.7 98.07 L331.15 96.09 L331.6 92.41 L332.05 90.62 L332.5 87.47 L332.93 90.29 L333.37 90.91 L333.8 93.41 L334.37 97.33 L334.93 98.08 L335.5 99.51 L335.93 100.29 L336.37 98.64 L336.8 100.27 L337.27 99.09 L337.73 101.65 L338.2 102.94 L338.65 100.28 L339.1 97.01 L339.55 96.05 L340 94.73" stroke="#0000ff" stroke-width="1.1" fill="none" stroke-linejoin="round"/>
</g>
<path d="M221.3 135.5v-1.6M221.3 71.4v1.6M251.1 135.5v-1.6M251.1 71.4v1.6M280.9 135.5v-1.6M280.9 71.4v1.6M310.7 135.5v-1.6M310.7 71.4v1.6M191.5 124.82h1.6M340.5 124.82h-1.6M191.5 114.13h1.6M340.5 114.13h-1.6M191.5 103.45h1.6M340.5 103.45h-1.6M191.5 92.77h1.6M340.5 92.77h-1.6M191.5 82.08h1.6M340.5 82.08h-1.6" stroke="#262626" stroke-width="0.6" fill="none"/>
<rect x="191.5" y="71.4" width="149" height="64.1" stroke="#262626" stroke-width="0.85" fill="none"/>
<text transform="translate(189 137.95) scale(0.86 1)" font-size="6.8" text-anchor="end" class="sf" fill="#000" stroke="#000" stroke-width="0.25">-25</text>
<text transform="translate(189 127.27) scale(0.86 1)" font-size="6.8" text-anchor="end" class="sf" fill="#000" stroke="#000" stroke-width="0.25">-20</text>
<text transform="translate(189 116.58) scale(0.86 1)" font-size="6.8" text-anchor="end" class="sf" fill="#000" stroke="#000" stroke-width="0.25">-15</text>
<text transform="translate(189 105.9) scale(0.86 1)" font-size="6.8" text-anchor="end" class="sf" fill="#000" stroke="#000" stroke-width="0.25">-10</text>
<text transform="translate(189 95.22) scale(0.86 1)" font-size="6.8" text-anchor="end" class="sf" fill="#000" stroke="#000" stroke-width="0.25">-5</text>
<text transform="translate(189 84.53) scale(0.86 1)" font-size="6.8" text-anchor="end" class="sf" fill="#000" stroke="#000" stroke-width="0.25">0</text>
<text transform="translate(189 73.85) scale(0.86 1)" font-size="6.8" text-anchor="end" class="sf" fill="#000" stroke="#000" stroke-width="0.25">5</text>
<text transform="translate(191.5 144.05) scale(0.86 1)" font-size="7.1" text-anchor="middle" class="sf" fill="#000" stroke="#000" stroke-width="0.25">0</text>
<text transform="translate(221.3 144.05) scale(0.86 1)" font-size="7.1" text-anchor="middle" class="sf" fill="#000" stroke="#000" stroke-width="0.25">1</text>
<text transform="translate(251.1 144.05) scale(0.86 1)" font-size="7.1" text-anchor="middle" class="sf" fill="#000" stroke="#000" stroke-width="0.25">2</text>
<text transform="translate(280.9 144.05) scale(0.86 1)" font-size="7.1" text-anchor="middle" class="sf" fill="#000" stroke="#000" stroke-width="0.25">3</text>
<text transform="translate(310.7 144.05) scale(0.86 1)" font-size="7.1" text-anchor="middle" class="sf" fill="#000" stroke="#000" stroke-width="0.25">4</text>
<text transform="translate(340.5 144.05) scale(0.86 1)" font-size="7.1" text-anchor="middle" class="sf" fill="#000" stroke="#000" stroke-width="0.25">5</text>
<text x="266" y="150.7" font-size="7.7" text-anchor="middle" class="sf" fill="#000" textLength="24.3" lengthAdjust="spacingAndGlyphs" stroke="#000" stroke-width="0.12">Time [s]</text>
<text x="256.5" y="166.1" font-size="12.0" text-anchor="middle" class="sf" fill="#222" textLength="68.9" lengthAdjust="spacingAndGlyphs" stroke="#222" stroke-width="0.2">(b) P1R2V4.8</text>
<text transform="translate(180.8 34) rotate(-90)" x="0" y="2" font-size="7.4" text-anchor="middle" class="sf" fill="#111" stroke="#111" stroke-width="0.18" textLength="26.5" lengthAdjust="spacingAndGlyphs"><tspan font-style="italic" font-size="8.14">V</tspan><tspan font-size="5.33" dy="1.63" font-style="italic">W</tspan><tspan dy="-1.63"> [m/s]</tspan></text>
<text transform="translate(175 103.3) rotate(-90)" x="0" y="2" font-size="7.4" text-anchor="middle" class="sf" fill="#555" stroke="#555" stroke-width="0.05" textLength="18" lengthAdjust="spacingAndGlyphs"><tspan font-style="italic" font-size="7.77">ψ</tspan><tspan font-size="5.33" dy="1.63" font-style="italic">W</tspan><tspan dy="-1.63"> [°]</tspan></text>
<rect x="272.2" y="56.2" width="66.2" height="8.1" fill="#fff" stroke="#262626" stroke-width="0.75"/>
<path d="M273.42 60.25H282.28" stroke="#0000ff" stroke-width="0.65"/>
<text x="283.1" y="62.37" font-size="5.9" text-anchor="start" class="ss" fill="#1a1a1a" textLength="11" lengthAdjust="spacingAndGlyphs" stroke="#1a1a1a" stroke-width="0.2">ASR</text>
<path d="M295.83 60.25H306.01" stroke="#222" stroke-width="0.75" stroke-dasharray="2 1.6"/>
<text x="305.71" y="62.37" font-size="5.9" text-anchor="start" class="ss" fill="#1a1a1a" textLength="7.23" lengthAdjust="spacingAndGlyphs" stroke="#1a1a1a" stroke-width="0.2">AS</text>
<path d="M314.77 60.25H324.14" stroke="#ff00ff" stroke-width="0.65"/>
<text x="324.65" y="62.37" font-size="5.9" text-anchor="start" class="ss" fill="#1a1a1a" textLength="12.22" lengthAdjust="spacingAndGlyphs" stroke="#1a1a1a" stroke-width="0.2">W+G</text>
<path d="M392.96 2.5V66.3M422.72 2.5V66.3M452.48 2.5V66.3M482.24 2.5V66.3M363.2 50.35H512M363.2 34.4H512M363.2 18.45H512" stroke="#ebebeb" stroke-width="0.45" fill="none"/>
<g clip-path="url(#clip_c1)">
<path d="M363.4 36.9 L365.6 40.5 L367.4 38.4 L370.9 37.8 L374.5 37.3 L378.1 38.7 L380.8 38.4 L383.4 39.6 L387 39.6 L389.7 37.3 L392.4 40.5 L395 38.7 L397.7 40.1 L401.3 40.5 L404.9 40.5 L408.4 39.6 L411.1 38.7 L413.8 40.7 L415.6 39.6 L419.1 38.4 L421.8 39.6 L424.5 41.4 L426.3 40.5 L429 39.6 L432.5 40.1 L436.1 40.5 L439.7 40.5 L443.3 40.5 L445.9 43.2 L448.6 41.9 L452.2 42.3 L455.8 43.2 L458.4 44.4 L461.1 45.9 L463.8 46.8 L465.6 47.6 L469.1 48 L472.7 49.8 L476.3 48.5 L479.9 49.8 L483.4 50.3 L486.1 49.8 L488.8 51.2 L491.5 52.6 L494.1 50.3 L496.8 52.1 L499.5 52.6 L503.1 52.6 L506.6 53 L509.3 53.4 L511.6 53.5" stroke="#ff00ff" stroke-width="0.7" fill="none"/>
<path d="M363.4 29.8 L365.6 25.9 L367.4 24.4 L369.1 26.2 L371.8 25.9 L374.5 24.4 L376.3 20.9 L378.1 18.2 L379.9 19.1 L382.5 20 L385.2 19.1 L387 15.5 L388.8 14.1 L391.5 14.6 L394.1 14.1 L396.8 12.8 L398.6 13.4 L400.4 16.4 L403.1 20 L405.8 22.3 L408.4 24.1 L411.1 26.2 L413.8 29.4 L417.4 30.7 L420 31.2 L422.4 35.1 L423.8 36 L425.4 34.3 L428.1 36 L430.8 35.1 L433.1 31.6 L435.2 27.1 L437.9 27.1 L440.6 26.2 L443.3 27.1 L445.9 26.2 L447.7 28.9 L450.4 31.6 L453.1 32.5 L455.8 33.4 L458.4 34.3 L460.2 36 L462 35.5 L463.8 36 L465.6 36.9 L467.4 37.8 L469.1 29.8 L470.9 26.2 L473.6 25.3 L476.3 28 L479 30.7 L481.6 31.6 L484.3 28 L487 27.1 L489.7 28.9 L492.4 30.7 L495 32.5 L497.7 30.7 L500.4 28 L503.1 26.2 L505.8 23.5 L508.1 24.4 L509.9 27.1 L511.6 28" stroke="#111" stroke-width="0.8" stroke-dasharray="2 1.7" fill="none"/>
<path d="M363.4 28.02 L363.83 28.41 L364.27 27.86 L364.7 28.1 L365.3 26.44 L365.9 24.73 L366.45 24.36 L367 24.91 L367.43 25.84 L367.87 25.41 L368.3 26.59 L368.9 28.33 L369.5 30.42 L369.97 29.99 L370.43 29.49 L370.9 28.85 L371.4 29.1 L371.9 30.64 L372.4 30.7 L372.87 31.66 L373.33 32.6 L373.8 33.51 L374.35 32.44 L374.9 29.56 L375.37 27.53 L375.83 26.01 L376.3 23.19 L376.77 23.19 L377.23 22.15 L377.7 21.78 L378.13 19.06 L378.57 18.66 L379 17.57 L379.6 18.43 L380.2 17.16 L380.67 18.64 L381.13 18.65 L381.6 19.06 L382.1 19.22 L382.6 20.39 L383.1 20.45 L383.57 20.91 L384.03 21.14 L384.5 20.78 L384.97 20.84 L385.43 19.64 L385.9 18.6 L386.4 19.35 L386.9 20.52 L387.4 20.08 L387.87 19.59 L388.33 19.25 L388.8 20.28 L389.27 20.35 L389.73 21.07 L390.2 19.85 L390.67 20.75 L391.13 19.85 L391.6 19.79 L392.1 20.35 L392.6 20.47 L393.1 20.41 L393.57 21.53 L394.03 21.15 L394.5 20.88 L394.97 22.04 L395.43 20.19 L395.9 20.81 L396.4 21.28 L396.9 21.79 L397.4 23.15 L397.87 22.84 L398.33 23.88 L398.8 24.57 L399.27 25.56 L399.73 25.21 L400.2 27.2 L400.67 27.22 L401.13 26.99 L401.6 26.56 L402.1 25.58 L402.6 24.13 L403.1 24.24 L403.57 26.09 L404.03 26.61 L404.5 26.46 L404.97 28.14 L405.43 30.21 L405.9 30.79 L406.4 31.95 L406.9 31.12 L407.4 32.31 L407.87 30.67 L408.33 31.49 L408.8 29.75 L409.27 29.59 L409.73 28.88 L410.2 29.23 L410.67 27.98 L411.13 27.7 L411.6 27.95 L412.05 28.09 L412.5 29.93 L412.95 29.09 L413.4 29.13 L413.83 28.46 L414.27 28.32 L414.7 27.9 L415.3 30.04 L415.9 32.49 L416.4 32.55 L416.9 33.81 L417.4 33.71 L417.87 32.43 L418.33 32.49 L418.8 30.29 L419.4 30.32 L420 28.07 L420.43 30.83 L420.87 30.92 L421.3 32.49 L421.77 33.03 L422.23 33.9 L422.7 33.27 L423.17 32.51 L423.63 32.02 L424.1 30.66 L424.53 29.75 L424.97 27.32 L425.4 27.32 L426 28.47 L426.6 29.04 L427.1 29.79 L427.6 31.36 L428.1 31.53 L428.57 31.37 L429.03 31.23 L429.5 29.3 L429.93 30.31 L430.37 28.46 L430.8 29.03 L431.4 28.9 L432 29.91 L432.47 27.11 L432.93 25.51 L433.4 24.48 L433.9 24.19 L434.4 24.3 L434.9 23.54 L435.5 26.16 L436.1 26.9 L436.53 28.09 L436.97 28.92 L437.4 30.32 L437.87 29.26 L438.33 28.62 L438.8 27.79 L439.27 29.07 L439.73 29 L440.2 29.72 L440.63 29.31 L441.07 29.34 L441.5 28.8 L442.1 29.04 L442.7 30.33 L443.17 29.77 L443.63 27.71 L444.1 26.25 L444.6 26.13 L445.1 25.89 L445.6 25.36 L446.2 28.2 L446.8 29.15 L447.23 30.58 L447.67 31.36 L448.1 32.43 L448.57 33.69 L449.03 33.12 L449.5 34.03 L449.97 32.74 L450.43 32.02 L450.9 30.91 L451.33 30.15 L451.77 30.42 L452.2 28.52 L452.8 29.64 L453.4 32.26 L453.9 30.75 L454.4 31.84 L454.9 30.36 L455.37 31.31 L455.83 32.07 L456.3 33.45 L456.77 32.43 L457.23 33.76 L457.7 35.17 L458.17 35.57 L458.63 35.92 L459.1 35.2 L459.6 35.1 L460.1 33.32 L460.6 32.45 L461.07 30.58 L461.53 30.52 L462 29.32 L462.47 29.53 L462.93 30.1 L463.4 31.14 L463.83 31.44 L464.27 29.72 L464.7 29.89 L465.3 30.81 L465.9 32.68 L466.4 30.93 L466.9 29.35 L467.4 28.33 L467.87 27.74 L468.33 25.29 L468.8 25.79 L469.4 23.31 L470 23.02 L470.43 22.39 L470.87 21.31 L471.3 20.39 L471.77 21.7 L472.23 22.34 L472.7 23.47 L473.17 24.73 L473.63 25.33 L474.1 25.79 L474.53 26.93 L474.97 27.07 L475.4 27.2 L476 25.85 L476.6 25.36 L477.1 25.14 L477.6 25.25 L478.1 25.3 L478.57 28 L479.03 28.72 L479.5 30.11 L479.93 32.11 L480.37 32.72 L480.8 33.98 L481.4 32.72 L482 30.99 L482.47 30.2 L482.93 29.36 L483.4 28.77 L483.9 28.77 L484.4 28.39 L484.9 27.48 L485.5 27.51 L486.1 26.01 L486.53 25.5 L486.97 24.86 L487.4 25.16 L487.87 25.73 L488.33 25.36 L488.8 26.43 L489.27 25.78 L489.73 26.7 L490.2 26.95 L490.63 25.87 L491.07 26.35 L491.5 26.2 L492.1 27.29 L492.7 26.93 L493.17 27.92 L493.63 27.47 L494.1 28.16 L494.6 28.23 L495.1 29.36 L495.6 29.38 L496.2 29.97 L496.8 30.67 L497.23 30.87 L497.67 30.78 L498.1 30.4 L498.57 30.28 L499.03 31.93 L499.5 32.16 L499.97 33.04 L500.43 35.64 L500.9 35.89 L501.33 35.22 L501.77 34.02 L502.2 33.47 L502.8 32.17 L503.4 30.8 L503.9 31.39 L504.4 31.04 L504.9 29.12 L505.37 30.78 L505.83 33.01 L506.3 33.82 L506.77 35.86 L507.23 36.58 L507.7 38.74 L508.17 39.15 L508.63 40.5 L509.1 40.12 L509.6 39.54 L510.1 40.03 L510.6 38.11 L511.1 36.35 L511.6 36.06" stroke="#0000ff" stroke-width="1.05" fill="none" stroke-linejoin="round"/>
</g>
<path d="M392.96 66.3v-1.6M392.96 2.5v1.6M422.72 66.3v-1.6M422.72 2.5v1.6M452.48 66.3v-1.6M452.48 2.5v1.6M482.24 66.3v-1.6M482.24 2.5v1.6M363.2 50.35h1.6M512 50.35h-1.6M363.2 34.4h1.6M512 34.4h-1.6M363.2 18.45h1.6M512 18.45h-1.6" stroke="#262626" stroke-width="0.6" fill="none"/>
<rect x="363.2" y="2.5" width="148.8" height="63.8" stroke="#262626" stroke-width="0.85" fill="none"/>
<text transform="translate(360.7 68.75) scale(0.86 1)" font-size="6.8" text-anchor="end" class="sf" fill="#000" stroke="#000" stroke-width="0.25">8</text>
<text transform="translate(360.7 52.8) scale(0.86 1)" font-size="6.8" text-anchor="end" class="sf" fill="#000" stroke="#000" stroke-width="0.25">9</text>
<text transform="translate(360.7 36.85) scale(0.86 1)" font-size="6.8" text-anchor="end" class="sf" fill="#000" stroke="#000" stroke-width="0.25">10</text>
<text transform="translate(360.7 20.9) scale(0.86 1)" font-size="6.8" text-anchor="end" class="sf" fill="#000" stroke="#000" stroke-width="0.25">11</text>
<text transform="translate(360.7 4.95) scale(0.86 1)" font-size="6.8" text-anchor="end" class="sf" fill="#000" stroke="#000" stroke-width="0.25">12</text>
<path d="M392.96 71.4V135.5M422.72 71.4V135.5M452.48 71.4V135.5M482.24 71.4V135.5M363.2 119.47H512M363.2 103.45H512M363.2 87.43H512" stroke="#ebebeb" stroke-width="0.45" fill="none"/>
<g clip-path="url(#clip_c2)">
<path d="M363.4 133.6 L365.6 131.8 L369.1 130.2 L372.7 129.6 L376.3 128.5 L379.9 127.8 L382.5 129 L385.2 126.7 L387.9 124.2 L390.6 124.6 L394.1 123.7 L397.7 123.1 L401.3 122.4 L404.9 121.4 L408.4 120.6 L412 119.4 L414.7 118.3 L417.4 119.2 L420 118.9 L422.7 117.8 L425.4 116.5 L428.1 117.4 L430.8 120.1 L433.4 123.1 L436.1 121.9 L438.8 121.4 L441.5 124.2 L443.8 127.3 L445.9 123.1 L448.6 126.4 L451.3 127.8 L454 128.1 L456.6 129.9 L458.8 129 L461.1 122.8 L463.8 123.7 L467.4 126 L470.9 126.4 L474.5 127.3 L478.1 128.1 L481.6 129 L485.2 129.6 L488.8 129.9 L491.5 129 L494.1 132.6 L496.8 129.9 L500.4 128.1 L504 130.8 L507.5 131.7 L510.2 129.9 L511.6 130.8" stroke="#ff00ff" stroke-width="0.7" fill="none"/>
<path d="M363.4 102.3 L365.6 104 L367.4 105.8 L369.1 106.7 L371.8 107.6 L374.5 108.5 L377.2 110.3 L379.9 111.7 L382.5 113.5 L385.2 113 L387.9 109.4 L390.6 106.7 L393.3 109.4 L395.9 113 L398.6 113.9 L401.3 112.1 L404 113 L406.6 113.5 L409.3 113.5 L412 113.9 L414.7 114.8 L417.4 113 L420 112.1 L422.7 113.9 L424.5 106.7 L426.3 99.6 L428.1 93.3 L429.9 90.6 L432.5 90.6 L435.2 91.5 L437.9 88.9 L440.6 88.9 L443.3 89.8 L445.9 93.3 L448.6 96 L451.3 100.5 L454 102.8 L456.6 103.1 L459.3 102.3 L462 105 L463.8 108.5 L465.6 106.7 L467.4 104 L469.1 105.8 L470.9 106.7 L473.6 108.9 L476.3 108.5 L479 109.4 L481.6 110.3 L484.3 108.5 L487 106.7 L489.7 105.8 L492.4 112.1 L494.1 114.8 L496.8 112.4 L499.5 111.2 L501.3 106.7 L503.1 104 L504.9 112.1 L507.5 114.8 L509.9 113 L511.6 113.9" stroke="#111" stroke-width="0.8" stroke-dasharray="2 1.7" fill="none"/>
<path d="M363.4 96.14 L363.95 95.66 L364.5 92.86 L365.05 94.57 L365.6 95.05 L366.1 99.75 L366.6 101.77 L367.15 103.3 L367.7 105.93 L368.25 102.99 L368.8 100.42 L369.35 97.85 L369.9 94.65 L370.4 95.43 L370.9 95.52 L371.45 100 L372 104.99 L372.55 105.95 L373.1 105.29 L373.6 104.06 L374.1 103.03 L374.53 103.71 L374.97 104.66 L375.4 104.16 L376 105.57 L376.6 107.87 L377.1 109.36 L377.6 109.6 L378.1 109.65 L378.57 110.3 L379.03 110.45 L379.5 112.47 L379.97 112.5 L380.43 112.03 L380.9 113.19 L381.4 113.1 L381.9 114.52 L382.4 116.13 L382.9 114.55 L383.4 111.89 L383.9 110.37 L384.4 108.96 L384.9 107.61 L385.37 108.8 L385.83 110.04 L386.3 111.65 L386.77 110.05 L387.23 107.96 L387.7 106.08 L388.25 102.71 L388.8 99.9 L389.27 100.69 L389.73 100.68 L390.2 102.29 L390.67 101.75 L391.13 103.61 L391.6 103.81 L392.1 106.17 L392.6 106.51 L393.1 107.95 L393.57 108.96 L394.03 109.77 L394.5 111.25 L394.97 113.01 L395.43 115.09 L395.9 116.06 L396.4 116.51 L396.9 117.33 L397.4 118.25 L397.87 116.62 L398.33 115.22 L398.8 114.97 L399.27 112.97 L399.73 111.82 L400.2 110.4 L400.67 109.96 L401.13 110.26 L401.6 111.6 L402.1 110.96 L402.6 110.9 L403.1 111.92 L403.57 110.37 L404.03 108.49 L404.5 105.85 L404.97 104.68 L405.43 103.27 L405.9 102.51 L406.4 103.06 L406.9 101.95 L407.4 102.33 L407.87 102.87 L408.33 104.56 L408.8 106.35 L409.27 107.17 L409.73 108.07 L410.2 109.04 L410.67 110.13 L411.13 110.41 L411.6 112.16 L412.1 113.3 L412.6 115.04 L413.1 116.36 L413.63 117.11 L414.17 117.16 L414.7 117.14 L415.3 115.79 L415.9 115.5 L416.4 114.94 L416.9 112.75 L417.4 112.62 L417.87 112.09 L418.33 109.8 L418.8 109.31 L419.4 107.39 L420 105.82 L420.43 105.24 L420.87 104.42 L421.3 104.5 L421.85 102.62 L422.4 101.14 L423 99.69 L423.6 97.43 L424.03 97.43 L424.47 95.11 L424.9 93.89 L425.4 92.16 L425.9 91.21 L426.33 89.24 L426.77 87.88 L427.2 86.7 L427.8 85.08 L428.4 83.89 L428.95 86.88 L429.5 88.49 L429.93 87.91 L430.37 87.7 L430.8 87.58 L431.4 88.78 L432 90.47 L432.47 88.65 L432.93 88.16 L433.4 88.44 L433.9 89.79 L434.4 89.76 L434.9 92.12 L435.5 93 L436.1 95.72 L436.53 93.5 L436.97 90.29 L437.4 88.14 L437.87 87.56 L438.33 85.48 L438.8 83.91 L439.27 86.28 L439.73 85.86 L440.2 88.29 L440.63 87.61 L441.07 86.24 L441.5 85.87 L442.1 86.68 L442.7 89.49 L443.17 91.66 L443.63 93.26 L444.1 96.07 L444.6 94.17 L445.1 93.03 L445.6 91.65 L446.2 93.55 L446.8 94.53 L447.23 93.68 L447.67 93.79 L448.1 93.92 L448.57 95.04 L449.03 96.23 L449.5 96.96 L449.97 100.26 L450.43 102.4 L450.9 103.44 L451.33 105.09 L451.77 107.19 L452.2 107.84 L452.8 108.47 L453.4 107.1 L453.9 107.15 L454.4 107.82 L454.9 107.5 L455.37 110.08 L455.83 110.89 L456.3 111.5 L456.9 108.85 L457.5 105.52 L457.93 105.25 L458.37 102.46 L458.8 102.35 L459.27 99.62 L459.73 98.56 L460.2 96.34 L460.67 97.31 L461.13 98.24 L461.6 99.26 L462.05 99.04 L462.5 99.78 L462.95 99.9 L463.4 100.5 L463.83 99.6 L464.27 100.26 L464.7 99.7 L465.3 101.44 L465.9 100.82 L466.4 100.34 L466.9 99.93 L467.4 98.89 L467.87 98.27 L468.33 98.26 L468.8 97.86 L469.4 99.72 L470 100.92 L470.43 102.94 L470.87 105.57 L471.3 108.37 L471.85 109.94 L472.4 113.73 L473 110.91 L473.6 109.67 L474.03 108.27 L474.47 106.53 L474.9 103.55 L475.37 104.61 L475.83 106.6 L476.3 106.48 L476.77 106.1 L477.23 103.94 L477.7 102.31 L478.13 101.17 L478.57 101.39 L479 100.36 L479.6 101.37 L480.2 104.55 L480.67 103.83 L481.13 105.59 L481.6 105.65 L482.1 103.94 L482.6 103.24 L483.1 101.97 L483.57 101.6 L484.03 99.76 L484.5 98.01 L484.97 99.53 L485.43 101.95 L485.9 103.3 L486.4 103.45 L486.9 103.07 L487.4 102.36 L487.87 103.02 L488.33 103.84 L488.8 104.38 L489.27 103.79 L489.73 102.9 L490.2 101.59 L490.67 104.18 L491.13 105.08 L491.6 108.32 L492.1 108.83 L492.6 110.24 L493.1 112.09 L493.57 110.12 L494.03 109.2 L494.5 106.66 L495.05 103.36 L495.6 98.22 L496.2 94.54 L496.8 91.39 L497.23 92.89 L497.67 92.94 L498.1 94.52 L498.57 95.88 L499.03 97.32 L499.5 97.93 L499.97 95.77 L500.43 94.48 L500.9 94 L501.33 94.33 L501.77 95.65 L502.2 98.39 L502.8 101.21 L503.4 106.01 L503.9 107.79 L504.4 112.65 L504.9 114.65 L505.37 115.71 L505.83 117.32 L506.3 116.96 L506.77 116.59 L507.23 116.26 L507.7 116.05 L508.17 115.86 L508.63 115.32 L509.1 113.6 L509.6 113.69 L510.1 111.32 L510.6 110.02 L511.1 112.3 L511.6 114.33" stroke="#0000ff" stroke-width="1.05" fill="none" stroke-linejoin="round"/>
</g>
<path d="M392.96 135.5v-1.6M392.96 71.4v1.6M422.72 135.5v-1.6M422.72 71.4v1.6M452.48 135.5v-1.6M452.48 71.4v1.6M482.24 135.5v-1.6M482.24 71.4v1.6M363.2 119.47h1.6M512 119.47h-1.6M363.2 103.45h1.6M512 103.45h-1.6M363.2 87.43h1.6M512 87.43h-1.6" stroke="#262626" stroke-width="0.6" fill="none"/>
<rect x="363.2" y="71.4" width="148.8" height="64.1" stroke="#262626" stroke-width="0.85" fill="none"/>
<text transform="translate(360.7 137.95) scale(0.86 1)" font-size="6.8" text-anchor="end" class="sf" fill="#000" stroke="#000" stroke-width="0.25">-10</text>
<text transform="translate(360.7 121.92) scale(0.86 1)" font-size="6.8" text-anchor="end" class="sf" fill="#000" stroke="#000" stroke-width="0.25">-5</text>
<text transform="translate(360.7 105.9) scale(0.86 1)" font-size="6.8" text-anchor="end" class="sf" fill="#000" stroke="#000" stroke-width="0.25">0</text>
<text transform="translate(360.7 89.87) scale(0.86 1)" font-size="6.8" text-anchor="end" class="sf" fill="#000" stroke="#000" stroke-width="0.25">5</text>
<text transform="translate(360.7 73.85) scale(0.86 1)" font-size="6.8" text-anchor="end" class="sf" fill="#000" stroke="#000" stroke-width="0.25">10</text>
<text transform="translate(363.2 144.05) scale(0.86 1)" font-size="7.1" text-anchor="middle" class="sf" fill="#000" stroke="#000" stroke-width="0.25">0</text>
<text transform="translate(392.96 144.05) scale(0.86 1)" font-size="7.1" text-anchor="middle" class="sf" fill="#000" stroke="#000" stroke-width="0.25">1</text>
<text transform="translate(422.72 144.05) scale(0.86 1)" font-size="7.1" text-anchor="middle" class="sf" fill="#000" stroke="#000" stroke-width="0.25">2</text>
<text transform="translate(452.48 144.05) scale(0.86 1)" font-size="7.1" text-anchor="middle" class="sf" fill="#000" stroke="#000" stroke-width="0.25">3</text>
<text transform="translate(482.24 144.05) scale(0.86 1)" font-size="7.1" text-anchor="middle" class="sf" fill="#000" stroke="#000" stroke-width="0.25">4</text>
<text transform="translate(512 144.05) scale(0.86 1)" font-size="7.1" text-anchor="middle" class="sf" fill="#000" stroke="#000" stroke-width="0.25">5</text>
<text x="437.6" y="150.7" font-size="7.7" text-anchor="middle" class="sf" fill="#000" textLength="24.3" lengthAdjust="spacingAndGlyphs" stroke="#000" stroke-width="0.12">Time [s]</text>
<text x="428.6" y="166.1" font-size="12.0" text-anchor="middle" class="sf" fill="#222" textLength="72.6" lengthAdjust="spacingAndGlyphs" stroke="#222" stroke-width="0.2">(c) P1R2V10.4</text>
<text transform="translate(348.8 34.3) rotate(-90)" x="0" y="2" font-size="7.4" text-anchor="middle" class="sf" fill="#111" stroke="#111" stroke-width="0.18" textLength="26.5" lengthAdjust="spacingAndGlyphs"><tspan font-style="italic" font-size="8.14">V</tspan><tspan font-size="5.33" dy="1.63" font-style="italic">W</tspan><tspan dy="-1.63"> [m/s]</tspan></text>
<text transform="translate(347.3 103.4) rotate(-90)" x="0" y="2" font-size="7.4" text-anchor="middle" class="sf" fill="#555" stroke="#555" stroke-width="0.05" textLength="18" lengthAdjust="spacingAndGlyphs"><tspan font-style="italic" font-size="7.77">ψ</tspan><tspan font-size="5.33" dy="1.63" font-style="italic">W</tspan><tspan dy="-1.63"> [°]</tspan></text>
<rect x="443.2" y="4.4" width="66" height="7.9" fill="#fff" stroke="#262626" stroke-width="0.75"/>
<path d="M444.42 8.35H453.25" stroke="#0000ff" stroke-width="0.65"/>
<text x="454.06" y="10.47" font-size="5.9" text-anchor="start" class="ss" fill="#1a1a1a" textLength="10.97" lengthAdjust="spacingAndGlyphs" stroke="#1a1a1a" stroke-width="0.2">ASR</text>
<path d="M466.76 8.35H476.91" stroke="#222" stroke-width="0.75" stroke-dasharray="2 1.6"/>
<text x="476.61" y="10.47" font-size="5.9" text-anchor="start" class="ss" fill="#1a1a1a" textLength="7.21" lengthAdjust="spacingAndGlyphs" stroke="#1a1a1a" stroke-width="0.2">AS</text>
<path d="M485.64 8.35H494.98" stroke="#ff00ff" stroke-width="0.65"/>
<text x="495.49" y="10.47" font-size="5.9" text-anchor="start" class="ss" fill="#1a1a1a" textLength="12.18" lengthAdjust="spacingAndGlyphs" stroke="#1a1a1a" stroke-width="0.2">W+G</text>
<path d="M564.3 2.5V66.3M594.1 2.5V66.3M623.9 2.5V66.3M653.7 2.5V66.3M534.5 55.67H683.5M534.5 45.03H683.5M534.5 34.4H683.5M534.5 23.77H683.5M534.5 13.13H683.5" stroke="#ebebeb" stroke-width="0.45" fill="none"/>
<g clip-path="url(#clip_d1)">
<path d="M534.9 60.1 L537.6 59.3 L541.1 58.4 L544.7 57.5 L548.3 56.6 L551.9 55.7 L555.4 55.1 L559 54.4 L561.7 53.5 L564.4 53.9 L567 53.5 L569.7 53 L572.4 53.9 L576 53.9 L579.5 53.9 L583.1 54.8 L587.6 55.1 L591.1 54.8 L594.7 54.4 L597.4 53.9 L601 54.4 L604.5 54.8 L608.1 55.1 L611.7 55.7 L615.3 55.7 L618.8 55.1 L622.4 54.8 L626 54.8 L629.5 55.3 L633.1 55.7 L636.6 55.1 L640.1 55.7 L643.7 56.2 L647.3 56.6 L650.9 57.5 L653.5 56.9 L657.1 57.5 L660.7 58.4 L664.3 58.7 L667.8 59.3 L671.4 59.8 L675 60.5 L677.6 61.6 L680.3 61 L683.4 61" stroke="#ff00ff" stroke-width="0.7" fill="none"/>
<path d="M534.9 19.1 L536.7 18.2 L538.5 16.4 L540.3 14.1 L542 14.6 L544.7 15.5 L547.4 15.5 L550.1 15.5 L552.8 15.9 L555.4 16.4 L558.1 16.4 L560.8 15.9 L563.5 15.1 L566.1 14.6 L568.8 14.6 L571.5 14.1 L574.2 13.7 L576.9 12.8 L579.5 11 L581.3 9.8 L584 9.8 L586.7 10.1 L589.4 11 L592 13.7 L593.8 14.6 L595.6 12.8 L597.4 11 L600.1 11.9 L602.8 12.8 L605.4 14.6 L608.1 16.4 L610.8 15.9 L613.5 15.1 L616.1 16.4 L618.8 18.2 L621.5 20 L624.2 18.2 L626.9 16.4 L629.5 14.6 L632.2 13.2 L635.7 11.9 L638.4 11 L641 11 L643.7 10.1 L646.4 11.9 L649.1 12.8 L650.9 10.1 L652.6 6.9 L654.4 4.4 L656.2 4.8 L658 8.4 L659.8 11 L661.6 11.9 L663.4 10.1 L666 7.5 L668.7 5.7 L670.5 6.6 L673.2 9.3 L675.9 11.9 L678.5 14.6 L681.2 13.4 L683.4 13.7" stroke="#111" stroke-width="0.8" stroke-dasharray="2 1.7" fill="none"/>
<path d="M534.9 33.22 L535.5 32.98 L536.1 33.68 L536.6 32.74 L537.1 33.21 L537.6 32.16 L538.07 31.14 L538.53 30.73 L539 29.92 L539.47 29.92 L539.93 29.54 L540.4 28.87 L540.9 29.96 L541.4 30.43 L541.9 31.36 L542.37 32.27 L542.83 32.75 L543.3 32.34 L543.85 29.67 L544.4 27.1 L545 25.32 L545.6 23.79 L546.05 22.12 L546.5 20.77 L547.05 21.96 L547.6 23.61 L548.07 24.55 L548.53 25.5 L549 26.39 L549.47 25.94 L549.93 26.51 L550.4 26.31 L550.9 25.53 L551.4 25.61 L551.9 24.71 L552.37 25.68 L552.83 26.78 L553.3 27.52 L553.77 27.31 L554.23 27.43 L554.7 27.61 L555.17 27.14 L555.63 26.92 L556.1 26.77 L556.6 26.9 L557.1 26.76 L557.6 26.23 L558.07 26.76 L558.53 26.93 L559 27.5 L559.47 28.39 L559.93 28.85 L560.4 30.21 L560.9 29.21 L561.4 29.54 L561.9 28.88 L562.37 28.93 L562.83 27.86 L563.3 27.43 L563.77 27.37 L564.23 27.2 L564.7 27.27 L565.17 27.31 L565.63 27.52 L566.1 27.23 L566.6 27.45 L567.1 27.88 L567.6 28.35 L568.07 27.95 L568.53 27.68 L569 28.1 L569.47 28.31 L569.93 28.99 L570.4 29.57 L570.9 29.12 L571.4 29.04 L571.9 29.25 L572.37 28.95 L572.83 29.05 L573.3 30.06 L573.77 30.65 L574.23 31.01 L574.7 30.91 L575.17 30.51 L575.63 29.96 L576.1 29.55 L576.6 31.48 L577.1 32.57 L577.6 34.64 L578.1 33.12 L578.6 32.25 L579.1 31.25 L579.6 30.19 L580.1 28.92 L580.57 28.36 L581.03 28.03 L581.5 27.59 L581.97 28.17 L582.43 27.76 L582.9 27.47 L583.4 26.6 L583.9 26.24 L584.4 25.4 L584.87 24.77 L585.33 24.07 L585.8 24.13 L586.25 24.26 L586.7 23.52 L587.15 23.92 L587.6 24.12 L588.05 24.09 L588.5 25.06 L588.95 25.34 L589.4 25.66 L589.97 25.84 L590.53 25.86 L591.1 26.48 L591.55 25.78 L592 25.22 L592.45 24.77 L592.9 23.83 L593.35 24.54 L593.8 24.02 L594.25 24.28 L594.7 24.63 L595.15 24.99 L595.6 24.27 L596.05 23.89 L596.5 23.6 L596.95 24.05 L597.4 24.57 L597.85 25.41 L598.3 25.56 L598.75 24.99 L599.2 24.62 L599.65 24.4 L600.1 24.25 L600.55 25.2 L601 25.04 L601.45 25.58 L601.9 26.54 L602.47 27.22 L603.03 27.16 L603.6 28.42 L604.05 28.33 L604.5 29.27 L604.95 30.01 L605.4 30.28 L605.85 29.78 L606.3 29.65 L606.75 28.57 L607.2 27.77 L607.65 27.9 L608.1 26.49 L608.55 26.67 L609 26.13 L609.45 26.64 L609.9 27.72 L610.35 28.35 L610.8 30.06 L611.25 30.63 L611.7 30.94 L612.15 31.9 L612.6 32.21 L613.05 31.68 L613.5 31.04 L613.95 31.15 L614.4 30.9 L614.97 31.11 L615.53 31.74 L616.1 32.34 L616.55 33.01 L617 33.73 L617.45 34.2 L617.9 35.42 L618.35 35.78 L618.8 35.53 L619.25 36.05 L619.7 36.83 L620.17 36.94 L620.63 38.33 L621.1 38.72 L621.6 37.6 L622.1 36.83 L622.6 35.47 L623.07 35.98 L623.53 35.56 L624 34.96 L624.47 35.84 L624.93 36.22 L625.4 37.36 L625.9 37 L626.4 38.19 L626.9 38.13 L627.37 38.32 L627.83 37.96 L628.3 37.73 L628.77 37.38 L629.23 37.08 L629.7 36.63 L630.17 36.71 L630.63 36.34 L631.1 36.18 L631.6 36.35 L632.1 37.37 L632.6 37.79 L633.07 37.35 L633.53 35.59 L634 34.75 L634.4 35.34 L634.8 35.67 L635.25 35.63 L635.7 35.92 L636.15 35.75 L636.6 35.88 L637.05 35.94 L637.5 36.03 L637.95 36.45 L638.4 36.92 L638.87 36.97 L639.33 38.25 L639.8 38.28 L640.35 39.72 L640.9 41.06 L641.37 39.9 L641.83 37.84 L642.3 36.51 L642.77 36.37 L643.23 35.28 L643.7 35.36 L644.15 35.14 L644.6 35 L645.05 34.82 L645.5 35.38 L645.95 34.97 L646.4 33.96 L646.85 34.26 L647.3 33.13 L647.75 32.85 L648.2 31.57 L648.65 30.33 L649.1 29.69 L649.55 30.32 L650 31.49 L650.45 31.88 L650.9 32.36 L651.47 33.13 L652.03 34.25 L652.6 34.68 L653.05 35.04 L653.5 35.24 L653.95 35.36 L654.4 35.87 L654.85 35.5 L655.3 34.94 L655.75 34.14 L656.2 33.18 L656.65 32.2 L657.1 32.32 L657.55 31.63 L658 32.28 L658.45 32.31 L658.9 32.68 L659.35 33.26 L659.8 33.98 L660.25 35.5 L660.7 36.11 L661.15 37.33 L661.6 37.57 L662.05 37.53 L662.5 37.82 L662.95 37.55 L663.4 36.47 L663.97 36.14 L664.53 36.08 L665.1 36.06 L665.55 35.75 L666 35.25 L666.45 35.23 L666.9 35.59 L667.35 35.17 L667.8 35.3 L668.25 36.12 L668.7 35.8 L669.15 36.81 L669.6 36.4 L670.05 37.75 L670.5 37.52 L670.95 38.14 L671.4 39.04 L671.85 38.84 L672.3 39.46 L672.75 40 L673.2 40.59 L673.65 41.08 L674.1 41.38 L674.55 40.6 L675 41.24 L675.45 40.49 L675.9 40.39 L676.47 40.23 L677.03 39.87 L677.6 39.31 L678.05 39.32 L678.5 39.17 L678.95 39.9 L679.4 39.51 L679.85 39.04 L680.3 39.69 L680.75 39.16 L681.2 38.43 L681.75 39.36 L682.3 39.76 L682.85 39.33 L683.4 39.58" stroke="#0000ff" stroke-width="1.5" fill="none" stroke-linejoin="round"/>
</g>
<path d="M564.3 66.3v-1.6M564.3 2.5v1.6M594.1 66.3v-1.6M594.1 2.5v1.6M623.9 66.3v-1.6M623.9 2.5v1.6M653.7 66.3v-1.6M653.7 2.5v1.6M534.5 55.67h1.6M683.5 55.67h-1.6M534.5 45.03h1.6M683.5 45.03h-1.6M534.5 34.4h1.6M683.5 34.4h-1.6M534.5 23.77h1.6M683.5 23.77h-1.6M534.5 13.13h1.6M683.5 13.13h-1.6" stroke="#262626" stroke-width="0.6" fill="none"/>
<rect x="534.5" y="2.5" width="149" height="63.8" stroke="#262626" stroke-width="0.85" fill="none"/>
<text transform="translate(532 68.75) scale(0.86 1)" font-size="6.8" text-anchor="end" class="sf" fill="#000" stroke="#000" stroke-width="0.25">18</text>
<text transform="translate(532 58.12) scale(0.86 1)" font-size="6.8" text-anchor="end" class="sf" fill="#000" stroke="#000" stroke-width="0.25">19</text>
<text transform="translate(532 47.48) scale(0.86 1)" font-size="6.8" text-anchor="end" class="sf" fill="#000" stroke="#000" stroke-width="0.25">20</text>
<text transform="translate(532 36.85) scale(0.86 1)" font-size="6.8" text-anchor="end" class="sf" fill="#000" stroke="#000" stroke-width="0.25">21</text>
<text transform="translate(532 26.22) scale(0.86 1)" font-size="6.8" text-anchor="end" class="sf" fill="#000" stroke="#000" stroke-width="0.25">22</text>
<text transform="translate(532 15.58) scale(0.86 1)" font-size="6.8" text-anchor="end" class="sf" fill="#000" stroke="#000" stroke-width="0.25">23</text>
<text transform="translate(532 4.95) scale(0.86 1)" font-size="6.8" text-anchor="end" class="sf" fill="#000" stroke="#000" stroke-width="0.25">24</text>
<path d="M564.3 71.4V135.5M594.1 71.4V135.5M623.9 71.4V135.5M653.7 71.4V135.5M534.5 124.82H683.5M534.5 114.13H683.5M534.5 103.45H683.5M534.5 92.77H683.5M534.5 82.08H683.5" stroke="#ebebeb" stroke-width="0.45" fill="none"/>
<g clip-path="url(#clip_d2)">
<path d="M534.9 112.1 L538.5 112.6 L542 113.1 L545.6 113.9 L549.2 114.8 L552.8 114.2 L556.3 114.8 L559.9 115.6 L563.5 116.5 L567 117.4 L570.6 117.8 L574.2 118.3 L577.8 118.9 L581.3 119.6 L584.9 120.3 L587.6 120.1 L591.1 120.6 L594.7 121.4 L598.3 121.9 L601.9 122.4 L605.4 122.4 L609 122.8 L612.6 122.8 L616.1 123.1 L619.7 123.1 L623.3 123.7 L626.9 123.7 L630.4 124.2 L634 124.8 L636.6 124.6 L640.1 124.9 L643.7 124.9 L647.3 125.1 L650.9 125.5 L653.5 126.4 L656.2 127.3 L659.8 127.3 L663.4 127.3 L666.9 127.3 L670.5 127.8 L674.1 127.8 L677.6 128.1 L681.2 128.5 L683.4 128.5" stroke="#ff00ff" stroke-width="0.7" fill="none"/>
<path d="M534.9 98.7 L537.6 97.8 L540.3 96.9 L542.9 95.1 L545.6 93.3 L547.9 92.4 L550.1 93.9 L551.9 96 L554.5 96.4 L557.2 96 L559.9 95.6 L562.6 95.6 L565.3 95.6 L567.9 95.6 L570.6 95.6 L573.3 96 L576 97.4 L578.6 96.9 L581.3 95.1 L584 96.5 L586.7 97.8 L589.4 98.7 L592.9 99.2 L596.5 99.2 L600.1 99.2 L603.6 99.2 L606.3 98.7 L609 96.9 L610.8 98.7 L612.6 101.4 L615.3 101 L617.9 99.6 L619.7 100.5 L621.9 103.1 L623.6 105.8 L626 107.6 L628.6 106.4 L631.3 105.8 L634 105.1 L635.7 105.3 L638.4 104.6 L641 103.5 L643.7 102.8 L646.4 103.1 L649.1 103.5 L651.8 102.3 L653.5 99.9 L656.2 100.5 L658.9 99.9 L661.6 100.5 L664.3 101.4 L666.9 102.8 L669.6 104 L672.3 104 L675 103.5 L677.6 103.1 L680.3 103.1 L683.4 102.8" stroke="#111" stroke-width="0.8" stroke-dasharray="2 1.7" fill="none"/>
<path d="M534.9 84.92 L535.5 85.05 L536.1 84.42 L536.6 84.3 L537.1 84.24 L537.6 84.65 L538.07 83.71 L538.53 84.05 L539 83.12 L539.47 84.15 L539.93 84.61 L540.4 84.31 L540.9 84.21 L541.4 82.96 L541.9 82.91 L542.37 82.22 L542.83 80.35 L543.3 79.86 L543.77 79.39 L544.23 78.07 L544.7 77.49 L545.17 76.66 L545.63 76.3 L546.1 75.34 L546.65 75.91 L547.2 76.16 L547.75 78.32 L548.3 79.65 L548.77 80.36 L549.23 81.19 L549.7 81.25 L550.17 81.55 L550.63 81.86 L551.1 82.94 L551.6 83.87 L552.1 85.22 L552.6 85.54 L553.1 85.95 L553.6 86.74 L554.1 86.06 L554.6 84.73 L555.1 83.41 L555.57 82.58 L556.03 82.2 L556.5 81.48 L557.05 82.82 L557.6 83.91 L558.07 85.67 L558.53 86.29 L559 87.37 L559.47 86.49 L559.93 86.76 L560.4 86.7 L560.9 85.46 L561.4 85.79 L561.9 84.85 L562.37 85.62 L562.83 86.49 L563.3 86.39 L563.77 85.39 L564.23 84.46 L564.7 83.7 L565.17 82.01 L565.63 80.63 L566.1 79.7 L566.6 79.83 L567.1 80.28 L567.6 80.07 L568.07 80.01 L568.53 80.19 L569 80.74 L569.47 81.48 L569.93 80.61 L570.4 80.49 L570.9 81.36 L571.4 81.77 L571.9 82.09 L572.37 81.56 L572.83 82.05 L573.3 82.15 L573.77 82.88 L574.23 83.94 L574.7 84.42 L575.17 85.42 L575.63 85.33 L576.1 86.41 L576.6 86.24 L577.1 85.99 L577.6 85.73 L578.07 85.4 L578.53 83.83 L579 83.2 L579.47 83.08 L579.93 83.88 L580.4 83.59 L580.9 83.34 L581.4 83.51 L581.9 82.54 L582.37 82.08 L582.83 82.16 L583.3 82.15 L583.77 82.23 L584.23 81.83 L584.7 81.23 L585.25 80.92 L585.8 81.1 L586.27 80.23 L586.73 80.15 L587.2 80.1 L587.67 81.55 L588.13 82.02 L588.6 83.18 L589.1 84.12 L589.6 84.44 L590.1 83.97 L590.57 84.96 L591.03 85.25 L591.5 85.57 L591.97 85.55 L592.43 85.69 L592.9 85.68 L593.4 85.42 L593.9 84.61 L594.4 84.2 L594.87 83.85 L595.33 83.35 L595.8 83.68 L596.27 83.31 L596.73 83.31 L597.2 83.53 L597.67 84.14 L598.13 85.41 L598.6 84.83 L599.1 84.63 L599.6 84.71 L600.1 84.64 L600.57 85.33 L601.03 85.84 L601.5 86.1 L601.97 87.08 L602.43 87.35 L602.9 86.94 L603.4 86.29 L603.9 85.15 L604.4 84.08 L604.87 83.16 L605.33 82.1 L605.8 80.85 L606.27 80.27 L606.73 79.95 L607.2 79.33 L607.67 79.75 L608.13 79.59 L608.6 79.31 L609.1 79.9 L609.6 79.92 L610.1 79.87 L610.57 80.25 L611.03 82.09 L611.5 82.78 L611.97 83.71 L612.43 85.61 L612.9 85.94 L613.4 86.63 L613.9 87.96 L614.4 88.64 L614.87 87.96 L615.33 89.15 L615.8 89.31 L616.27 89.46 L616.73 90.28 L617.2 90.64 L617.67 90.13 L618.13 90.73 L618.6 90.39 L619.1 90.77 L619.6 90.18 L620.1 89.92 L620.57 89.61 L621.03 88.63 L621.5 88.56 L621.97 89.31 L622.43 90.11 L622.9 91.09 L623.4 91.08 L623.9 90.51 L624.4 90.94 L624.87 90.33 L625.33 88.57 L625.8 87.55 L626.27 87.12 L626.73 86.98 L627.2 86.25 L627.67 86.02 L628.13 85.94 L628.6 86.15 L629.1 85.94 L629.6 86.29 L630.1 86.39 L630.57 86.05 L631.03 85.62 L631.5 85.93 L631.97 84.79 L632.43 84.35 L632.9 84.3 L633.38 84.54 L633.85 84.74 L634.32 84.19 L634.8 84.2 L635.25 85.56 L635.7 85.44 L636.15 86.3 L636.6 87.11 L637.07 86.82 L637.53 87.8 L638 88.37 L638.47 87.67 L638.93 87.01 L639.4 85.98 L639.9 85.12 L640.4 84.63 L640.9 84.43 L641.37 84.1 L641.83 84.02 L642.3 84 L642.77 83.52 L643.23 84.13 L643.7 84.01 L644.17 84.73 L644.63 85.72 L645.1 85.96 L645.6 86.93 L646.1 87.49 L646.6 88.46 L647.07 86.76 L647.53 86.7 L648 85.56 L648.47 84.3 L648.93 83.19 L649.4 81.45 L649.9 81.29 L650.4 80.39 L650.9 79.88 L651.37 80.08 L651.83 81.14 L652.3 81.4 L652.77 81.74 L653.23 82.73 L653.7 83.11 L654.17 82.37 L654.63 82 L655.1 81 L655.6 81.6 L656.1 82.55 L656.6 82.99 L657.07 83.22 L657.53 84.09 L658 84.37 L658.47 84.06 L658.93 83.65 L659.4 83.82 L659.9 83.99 L660.4 84.51 L660.9 85.04 L661.37 84.7 L661.83 84.51 L662.3 84.49 L662.77 83.88 L663.23 84.06 L663.7 85 L664.17 84.96 L664.63 84.07 L665.1 84.34 L665.6 84.14 L666.1 83.02 L666.6 82.77 L667.07 83.81 L667.53 83.38 L668 84.43 L668.47 84.03 L668.93 84.91 L669.4 84.86 L669.9 85.34 L670.4 85.32 L670.9 85.02 L671.37 85.37 L671.83 86.38 L672.3 86.65 L672.77 85.49 L673.23 85.25 L673.7 85.08 L674.17 85.97 L674.63 85.83 L675.1 85.79 L675.6 86.3 L676.1 86.05 L676.6 85.18 L677.07 85.2 L677.53 85.56 L678 85.3 L678.47 85.53 L678.93 86.27 L679.4 86.31 L679.9 85.85 L680.4 85.7 L680.9 85.52 L681.37 84.91 L681.83 84.38 L682.3 83.83 L682.85 83.09 L683.4 83.26" stroke="#0000ff" stroke-width="1.45" fill="none" stroke-linejoin="round"/>
</g>
<path d="M564.3 135.5v-1.6M564.3 71.4v1.6M594.1 135.5v-1.6M594.1 71.4v1.6M623.9 135.5v-1.6M623.9 71.4v1.6M653.7 135.5v-1.6M653.7 71.4v1.6M534.5 124.82h1.6M683.5 124.82h-1.6M534.5 114.13h1.6M683.5 114.13h-1.6M534.5 103.45h1.6M683.5 103.45h-1.6M534.5 92.77h1.6M683.5 92.77h-1.6M534.5 82.08h1.6M683.5 82.08h-1.6" stroke="#262626" stroke-width="0.6" fill="none"/>
<rect x="534.5" y="71.4" width="149" height="64.1" stroke="#262626" stroke-width="0.85" fill="none"/>
<text transform="translate(532 137.95) scale(0.86 1)" font-size="6.8" text-anchor="end" class="sf" fill="#000" stroke="#000" stroke-width="0.25">-20</text>
<text transform="translate(532 127.27) scale(0.86 1)" font-size="6.8" text-anchor="end" class="sf" fill="#000" stroke="#000" stroke-width="0.25">-15</text>
<text transform="translate(532 116.58) scale(0.86 1)" font-size="6.8" text-anchor="end" class="sf" fill="#000" stroke="#000" stroke-width="0.25">-10</text>
<text transform="translate(532 105.9) scale(0.86 1)" font-size="6.8" text-anchor="end" class="sf" fill="#000" stroke="#000" stroke-width="0.25">-5</text>
<text transform="translate(532 95.22) scale(0.86 1)" font-size="6.8" text-anchor="end" class="sf" fill="#000" stroke="#000" stroke-width="0.25">0</text>
<text transform="translate(532 84.53) scale(0.86 1)" font-size="6.8" text-anchor="end" class="sf" fill="#000" stroke="#000" stroke-width="0.25">5</text>
<text transform="translate(532 73.85) scale(0.86 1)" font-size="6.8" text-anchor="end" class="sf" fill="#000" stroke="#000" stroke-width="0.25">10</text>
<text transform="translate(534.5 144.05) scale(0.86 1)" font-size="7.1" text-anchor="middle" class="sf" fill="#000" stroke="#000" stroke-width="0.25">0</text>
<text transform="translate(564.3 144.05) scale(0.86 1)" font-size="7.1" text-anchor="middle" class="sf" fill="#000" stroke="#000" stroke-width="0.25">1</text>
<text transform="translate(594.1 144.05) scale(0.86 1)" font-size="7.1" text-anchor="middle" class="sf" fill="#000" stroke="#000" stroke-width="0.25">2</text>
<text transform="translate(623.9 144.05) scale(0.86 1)" font-size="7.1" text-anchor="middle" class="sf" fill="#000" stroke="#000" stroke-width="0.25">3</text>
<text transform="translate(653.7 144.05) scale(0.86 1)" font-size="7.1" text-anchor="middle" class="sf" fill="#000" stroke="#000" stroke-width="0.25">4</text>
<text transform="translate(683.5 144.05) scale(0.86 1)" font-size="7.1" text-anchor="middle" class="sf" fill="#000" stroke="#000" stroke-width="0.25">5</text>
<text x="609" y="150.7" font-size="7.7" text-anchor="middle" class="sf" fill="#000" textLength="24.3" lengthAdjust="spacingAndGlyphs" stroke="#000" stroke-width="0.12">Time [s]</text>
<text x="600.4" y="166.1" font-size="12.0" text-anchor="middle" class="sf" fill="#222" textLength="74" lengthAdjust="spacingAndGlyphs" stroke="#222" stroke-width="0.2">(d) P1R2V23.0</text>
<text transform="translate(521 34.3) rotate(-90)" x="0" y="2" font-size="7.4" text-anchor="middle" class="sf" fill="#111" stroke="#111" stroke-width="0.18" textLength="26.5" lengthAdjust="spacingAndGlyphs"><tspan font-style="italic" font-size="8.14">V</tspan><tspan font-size="5.33" dy="1.63" font-style="italic">W</tspan><tspan dy="-1.63"> [m/s]</tspan></text>
<text transform="translate(519 103.4) rotate(-90)" x="0" y="2" font-size="7.4" text-anchor="middle" class="sf" fill="#555" stroke="#555" stroke-width="0.05" textLength="18" lengthAdjust="spacingAndGlyphs"><tspan font-style="italic" font-size="7.77">ψ</tspan><tspan font-size="5.33" dy="1.63" font-style="italic">W</tspan><tspan dy="-1.63"> [°]</tspan></text>
<rect x="535.6" y="0.6" width="65.9" height="7.8" fill="#fff" stroke="#262626" stroke-width="0.75"/>
<path d="M536.82 4.5H545.64" stroke="#0000ff" stroke-width="0.65"/>
<text x="546.45" y="6.62" font-size="5.9" text-anchor="start" class="ss" fill="#1a1a1a" textLength="10.95" lengthAdjust="spacingAndGlyphs" stroke="#1a1a1a" stroke-width="0.2">ASR</text>
<path d="M559.12 4.5H569.26" stroke="#222" stroke-width="0.75" stroke-dasharray="2 1.6"/>
<text x="568.96" y="6.62" font-size="5.9" text-anchor="start" class="ss" fill="#1a1a1a" textLength="7.2" lengthAdjust="spacingAndGlyphs" stroke="#1a1a1a" stroke-width="0.2">AS</text>
<path d="M577.98 4.5H587.31" stroke="#ff00ff" stroke-width="0.65"/>
<text x="587.81" y="6.62" font-size="5.9" text-anchor="start" class="ss" fill="#1a1a1a" textLength="12.17" lengthAdjust="spacingAndGlyphs" stroke="#1a1a1a" stroke-width="0.2">W+G</text>
<path d="M38.12 192.4V256.3M56.75 192.4V256.3M75.38 192.4V256.3M94 192.4V256.3M112.62 192.4V256.3M131.25 192.4V256.3M149.88 192.4V256.3M19.5 249.2H168.5M19.5 242.1H168.5M19.5 235H168.5M19.5 227.9H168.5M19.5 220.8H168.5M19.5 213.7H168.5M19.5 206.6H168.5M19.5 199.5H168.5" stroke="#ebebeb" stroke-width="0.45" fill="none"/>
<g clip-path="url(#clip_e1)">
<path d="M19.5 234.7 L23.5 234.7 L27.1 235.3 L30.7 234.7 L34.4 234.4 L38 234.7 L41.6 236 L45.3 236.2 L48.9 236.5 L52.5 237.1 L56.2 238.4 L59.8 238.4 L63.5 238.9 L67.1 239.6 L70.7 239.3 L73.5 240.2 L77.1 240.2 L80.7 240.7 L84.4 241.1 L88 241.5 L91.6 242 L95.3 242.5 L98.9 242.9 L102.5 243.5 L106.2 243.8 L109.8 244.4 L113.5 244.7 L117.1 245.1 L121.6 246.2 L125.3 246.9 L128.9 247.5 L132.5 247.5 L136.2 248 L139.8 248.7 L143.5 249.8 L147.1 250.2 L150.7 250.5 L154.4 251.1 L158 251.6 L161.6 252 L165.3 252.4 L168.2 252.9" stroke="#ff00ff" stroke-width="0.7" fill="none"/>
<path d="M19.5 193.8 L21.6 193.8 L24.4 194.2 L27.1 196 L29.8 198.4 L32.5 199.3 L35.3 199.3 L38 199.6 L40.7 200.2 L43.5 200.7 L45.3 201.5 L47.1 198.9 L49.8 196 L51.6 196 L53.5 197.1 L56.2 200.2 L58.9 202 L60.7 203.8 L63.5 202.5 L66.2 202.9 L68 201.1 L70.7 200.2 L73.5 202 L76.2 204.4 L78 203.8 L79.8 201.1 L81.6 199.6 L83.5 202 L85.3 204.7 L88 206.2 L90.7 206.2 L93.5 206.2 L96.2 206.5 L98.9 210.2 L101.1 213.8 L103.5 211.6 L106.2 210.2 L108.9 209.8 L111.6 209.3 L114.4 208.7 L117.1 209.3 L120.7 210.2 L123.5 209.8 L126.2 208.7 L128.9 208 L131.6 208.7 L134.4 209.3 L137.1 207.5 L139.5 205.1 L141.6 204.7 L144.4 205.1 L147.1 205.1 L149.8 206.5 L152.5 208.7 L155.3 209.8 L158 210.2 L160.7 211.1 L163.5 212 L166.2 212.4 L168.2 213.5" stroke="#111" stroke-width="0.8" stroke-dasharray="2 1.7" fill="none"/>
<path d="M19.5 213.86 L20.02 214.28 L20.55 214 L21.08 213.44 L21.6 212.91 L22.08 212.91 L22.55 212.1 L23.02 212.46 L23.5 211.67 L23.95 212.2 L24.4 212.23 L24.85 211.58 L25.3 211.95 L25.75 211.24 L26.2 211.61 L26.65 211.76 L27.1 210.79 L27.55 211.29 L28 211.59 L28.45 211.3 L28.9 211.68 L29.35 211.6 L29.8 211.87 L30.25 211.6 L30.7 211.41 L31.15 210.75 L31.6 210.83 L32.05 210.05 L32.5 210.16 L32.98 210.65 L33.45 210.48 L33.92 210.14 L34.4 209.8 L34.87 210.87 L35.33 211.24 L35.8 211.9 L36.3 211.65 L36.8 212.25 L37.3 213.03 L37.83 213.6 L38.37 213.77 L38.9 214.15 L39.35 214.17 L39.8 214.48 L40.25 214.42 L40.7 214.5 L41.15 214.46 L41.6 215.4 L42.05 215.32 L42.5 215.73 L42.98 215.36 L43.45 216 L43.92 216.38 L44.4 215.74 L44.85 215.93 L45.3 214.76 L45.75 214.57 L46.2 214.49 L46.65 213.98 L47.1 213.76 L47.55 213.58 L48 213.24 L48.45 212.78 L48.9 212.61 L49.35 213.06 L49.8 213.28 L50.25 213.49 L50.7 213.02 L51.15 212.66 L51.6 212.49 L52.08 212.63 L52.55 213.08 L53.02 212.11 L53.5 212.07 L53.95 212.59 L54.4 212.66 L54.85 212.3 L55.3 211.3 L55.75 211.3 L56.2 211.12 L56.65 211.02 L57.1 211.23 L57.55 211.04 L58 211.46 L58.45 210.91 L58.9 211.42 L59.35 211.38 L59.8 211.19 L60.25 210.86 L60.7 210.71 L61.15 210.16 L61.6 210.61 L62.05 210.99 L62.5 212.07 L62.93 211.8 L63.37 211.87 L63.8 212.36 L64.3 210.79 L64.8 209.69 L65.3 209.07 L65.77 208.31 L66.23 207.84 L66.7 206.9 L67.2 205.83 L67.7 204.63 L68.2 204.04 L68.63 203.98 L69.07 204.61 L69.5 205.08 L70.1 207.51 L70.7 208.93 L71.15 209.72 L71.6 211.26 L72.05 212.31 L72.5 212.65 L72.97 213.77 L73.45 214.2 L73.93 214.63 L74.4 214.75 L74.85 214.7 L75.3 214.51 L75.75 215.06 L76.2 215.13 L76.65 215.13 L77.1 214.75 L77.55 214.3 L78 214.64 L78.45 213.72 L78.9 213.07 L79.35 212.58 L79.8 212.24 L80.23 212.5 L80.67 211.16 L81.1 210.71 L81.57 211.4 L82.03 211.89 L82.5 212.56 L83 213.07 L83.5 213.33 L84 214.38 L84.5 214.23 L85 213.51 L85.5 213.69 L85.97 214.02 L86.43 214.39 L86.9 215.07 L87.4 215.77 L87.9 216.3 L88.4 216.76 L88.85 217.19 L89.3 217.36 L89.75 218.36 L90.2 218.95 L90.65 219.31 L91.1 219.98 L91.55 220.26 L92 220.48 L92.45 220.37 L92.9 221.31 L93.35 221.22 L93.8 221.06 L94.3 221.43 L94.8 220.4 L95.3 220.32 L95.77 220.88 L96.23 220.87 L96.7 219.86 L97.2 221.09 L97.7 221.39 L98.2 221.51 L98.67 222.21 L99.13 222.5 L99.6 222.3 L100.1 222.91 L100.6 222.67 L101.1 223.52 L101.57 223.01 L102.03 222.8 L102.5 222.66 L103 222.32 L103.5 222.8 L104 222.89 L104.5 222.58 L105 222.43 L105.5 222.05 L105.97 221.68 L106.43 222.22 L106.9 222.85 L107.4 222.42 L107.9 222.61 L108.4 222.87 L108.87 223.39 L109.33 223.4 L109.8 223.39 L110.3 223.22 L110.8 223.33 L111.3 222.77 L111.77 223 L112.23 223.09 L112.7 223.27 L113.2 223.4 L113.7 224.13 L114.2 223.69 L114.67 223.91 L115.13 224.5 L115.6 224.84 L116.1 225.06 L116.6 224.44 L117.1 224.41 L117.57 224.01 L118.03 222.47 L118.5 221.9 L118.93 222 L119.37 221.39 L119.8 221.71 L120.25 221.94 L120.7 221.76 L121.15 221.89 L121.6 221.7 L122.07 221.4 L122.55 221.24 L123.03 221.34 L123.5 220.82 L123.95 221.01 L124.4 221.26 L124.85 220.72 L125.3 221.34 L125.75 221.21 L126.2 221.56 L126.65 222.13 L127.1 222.01 L127.55 221.89 L128 221.25 L128.45 220.99 L128.9 219.74 L129.35 219.61 L129.8 218.51 L130.25 217.58 L130.7 216.81 L131.15 216.17 L131.6 216.29 L132.05 215.67 L132.5 215.4 L132.97 215.23 L133.45 215.83 L133.93 215.73 L134.4 215.65 L134.85 215.81 L135.3 215.43 L135.75 215.22 L136.2 215.44 L136.67 215.08 L137.13 214.87 L137.6 215 L138.07 215.09 L138.55 215.13 L139.03 215.7 L139.5 215.73 L139.95 215.88 L140.4 215.97 L140.85 216.57 L141.3 216.54 L141.75 216.7 L142.2 216.88 L142.65 217.01 L143.1 217.46 L143.55 218.19 L144 217.93 L144.45 218.32 L144.9 219.38 L145.35 220 L145.8 219.84 L146.25 220.71 L146.7 221.24 L147.15 220.96 L147.6 221.39 L148.05 222.5 L148.5 222.29 L148.97 223.17 L149.45 222.71 L149.93 223.34 L150.4 223.08 L150.85 222.91 L151.3 222.41 L151.75 221.83 L152.2 221.72 L152.65 223.07 L153.1 223.68 L153.55 223.48 L154 224.11 L154.45 224.64 L154.9 225.7 L155.35 225.81 L155.8 226.02 L156.25 226.68 L156.7 226.66 L157.15 225.96 L157.6 225.95 L158.07 226.24 L158.55 226.14 L159.03 226.16 L159.5 226.64 L159.95 226.43 L160.4 226.2 L160.85 226.23 L161.3 226.43 L161.75 226.61 L162.2 226.86 L162.65 226.85 L163.1 227.04 L163.55 228.27 L164 228.72 L164.45 228.86 L164.9 229.67 L165.35 229.7 L165.8 230.02 L166.25 229.83 L166.7 229.79 L167.2 230.15 L167.7 230.14 L168.2 230.32" stroke="#0000ff" stroke-width="1.05" fill="none" stroke-linejoin="round"/>
</g>
<path d="M38.12 256.3v-1.6M38.12 192.4v1.6M56.75 256.3v-1.6M56.75 192.4v1.6M75.38 256.3v-1.6M75.38 192.4v1.6M94 256.3v-1.6M94 192.4v1.6M112.62 256.3v-1.6M112.62 192.4v1.6M131.25 256.3v-1.6M131.25 192.4v1.6M149.88 256.3v-1.6M149.88 192.4v1.6M19.5 249.2h1.6M168.5 249.2h-1.6M19.5 242.1h1.6M168.5 242.1h-1.6M19.5 235h1.6M168.5 235h-1.6M19.5 227.9h1.6M168.5 227.9h-1.6M19.5 220.8h1.6M168.5 220.8h-1.6M19.5 213.7h1.6M168.5 213.7h-1.6M19.5 206.6h1.6M168.5 206.6h-1.6M19.5 199.5h1.6M168.5 199.5h-1.6" stroke="#262626" stroke-width="0.6" fill="none"/>
<rect x="19.5" y="192.4" width="149" height="63.9" stroke="#262626" stroke-width="0.85" fill="none"/>
<text transform="translate(17 258.75) scale(0.86 1)" font-size="6.8" text-anchor="end" class="sf" fill="#000" stroke="#000" stroke-width="0.25">21</text>
<text transform="translate(17 251.65) scale(0.86 1)" font-size="6.8" text-anchor="end" class="sf" fill="#000" stroke="#000" stroke-width="0.25">22</text>
<text transform="translate(17 244.55) scale(0.86 1)" font-size="6.8" text-anchor="end" class="sf" fill="#000" stroke="#000" stroke-width="0.25">23</text>
<text transform="translate(17 237.45) scale(0.86 1)" font-size="6.8" text-anchor="end" class="sf" fill="#000" stroke="#000" stroke-width="0.25">24</text>
<text transform="translate(17 230.35) scale(0.86 1)" font-size="6.8" text-anchor="end" class="sf" fill="#000" stroke="#000" stroke-width="0.25">25</text>
<text transform="translate(17 223.25) scale(0.86 1)" font-size="6.8" text-anchor="end" class="sf" fill="#000" stroke="#000" stroke-width="0.25">26</text>
<text transform="translate(17 216.15) scale(0.86 1)" font-size="6.8" text-anchor="end" class="sf" fill="#000" stroke="#000" stroke-width="0.25">27</text>
<text transform="translate(17 209.05) scale(0.86 1)" font-size="6.8" text-anchor="end" class="sf" fill="#000" stroke="#000" stroke-width="0.25">28</text>
<text transform="translate(17 201.95) scale(0.86 1)" font-size="6.8" text-anchor="end" class="sf" fill="#000" stroke="#000" stroke-width="0.25">29</text>
<text transform="translate(17 194.85) scale(0.86 1)" font-size="6.8" text-anchor="end" class="sf" fill="#000" stroke="#000" stroke-width="0.25">30</text>
<path d="M38.12 261V325.3M56.75 261V325.3M75.38 261V325.3M94 261V325.3M112.62 261V325.3M131.25 261V325.3M149.88 261V325.3M19.5 314.58H168.5M19.5 303.87H168.5M19.5 293.15H168.5M19.5 282.43H168.5M19.5 271.72H168.5" stroke="#ebebeb" stroke-width="0.45" fill="none"/>
<g clip-path="url(#clip_e2)">
<path d="M19.5 314.1 L22.5 314.6 L26.2 314.6 L29.8 314.1 L33.5 313.7 L36.2 314.1 L39.8 314.6 L43.5 315.2 L47.1 315.2 L50.7 314.6 L54.4 314.6 L58 314.6 L61.6 314.6 L65.3 314.3 L68.9 314.1 L71.6 313.7 L75.3 312.8 L78.9 313.4 L82.5 313.7 L86.2 313.4 L89.8 312.8 L93.5 313.4 L97.1 312.8 L100.7 312.8 L104.4 313.4 L108 313.4 L111.6 312.8 L115.3 313.4 L120 313.4 L121.6 313.7 L125.3 313.7 L128.9 313.7 L132.5 313.4 L136.2 313.4 L139.8 313.4 L143.5 313.7 L147.1 312.8 L150.7 311.9 L154.4 311.5 L158 311.5 L161.6 311 L165.3 310.5 L168.2 310.1" stroke="#ff00ff" stroke-width="0.7" fill="none"/>
<path d="M19.5 294.1 L21.6 293.7 L24.4 293.4 L27.1 294.1 L29.8 293.4 L32.5 294.1 L35.3 295.2 L38 293.7 L39.8 291.5 L41.6 290.1 L44.4 291.9 L47.1 293.4 L49.8 293.4 L52.5 293.4 L55.3 293.4 L58 293.7 L60.7 294.1 L63.5 295.2 L66.2 294.6 L68.9 293.7 L70.7 294.6 L73.5 295.2 L76.2 295.2 L78.9 294.6 L81.6 294.1 L84.4 293.4 L86.2 294.1 L88.9 295.5 L91.6 296.5 L94.4 297 L97.1 297.4 L99.3 295.2 L101.6 293.7 L104.4 293.4 L107.1 293.4 L109.8 292.8 L112.5 292.3 L115.3 291.9 L118 293.1 L120.7 293.4 L123.5 293.7 L126.2 292.8 L128.9 293.4 L131.6 293.7 L134.4 294.6 L137.1 292.8 L138.9 291.9 L140.7 294.6 L142.5 297.4 L145.3 299.5 L148 300.1 L150.7 300.6 L153.5 300.1 L156.2 299.5 L158.9 300.6 L161.6 301.4 L164.4 301.9 L167.1 301.4 L168.2 301.4" stroke="#111" stroke-width="0.8" stroke-dasharray="2 1.7" fill="none"/>
<path d="M19.5 274.3 L20.1 273.75 L20.7 272.22 L21.15 271.77 L21.6 271.44 L22.05 271.04 L22.5 270.05 L22.98 269.89 L23.45 270.06 L23.92 270.08 L24.4 270.17 L24.85 270.04 L25.3 270.68 L25.75 270.82 L26.2 271.36 L26.65 271.1 L27.1 271.33 L27.55 271.33 L28 271.01 L28.45 271.67 L28.9 271.5 L29.35 271.68 L29.8 271.3 L30.25 271.21 L30.7 271.51 L31.15 271.86 L31.6 271.82 L32.08 272.04 L32.55 271.93 L33.02 270.98 L33.5 271.12 L33.95 270.55 L34.4 270.41 L34.85 269.97 L35.3 269.58 L35.9 268.25 L36.5 267.78 L37 267.72 L37.5 268.62 L38 268.34 L38.45 268.98 L38.9 268.39 L39.35 268.95 L39.8 269.41 L40.25 269.4 L40.7 269.07 L41.15 268.87 L41.6 268.71 L42.08 269.25 L42.55 269.75 L43.02 269.83 L43.5 270.45 L43.95 270.22 L44.4 270.81 L44.85 271.12 L45.3 271.74 L45.75 272.37 L46.2 272.41 L46.65 272.52 L47.1 273.68 L47.55 273.86 L48 273.79 L48.45 274.21 L48.9 274.49 L49.35 274.67 L49.8 274.16 L50.25 274.59 L50.7 274.21 L51.15 274.34 L51.6 274.51 L52.05 274.23 L52.5 274.35 L52.98 273.26 L53.45 272.92 L53.92 272.61 L54.4 272.41 L54.85 271.41 L55.3 270.9 L55.75 270.73 L56.2 269.74 L56.65 270.48 L57.1 270.66 L57.55 270.76 L58 270.95 L58.45 271.6 L58.9 271.39 L59.35 271.78 L59.8 272.29 L60.25 273.22 L60.7 272.79 L61.15 273.21 L61.6 274.07 L62.08 273.86 L62.55 273.89 L63.02 273.91 L63.5 273.7 L63.95 273.09 L64.4 272.7 L64.85 272.83 L65.3 272.7 L65.75 273.24 L66.2 273.24 L66.65 273.01 L67.1 273.61 L67.55 273.32 L68 273.6 L68.45 273.34 L68.9 272.83 L69.35 273.3 L69.8 273.18 L70.25 273.45 L70.7 274.34 L71.15 274.18 L71.6 274.53 L72.07 274.05 L72.55 273.98 L73.03 273.82 L73.5 273.97 L73.95 274.17 L74.4 274.44 L74.85 275.05 L75.3 274.44 L75.75 274.13 L76.2 273.87 L76.65 273.71 L77.1 273.26 L77.55 274.01 L78 273.85 L78.45 273.9 L78.9 274.48 L79.35 274.19 L79.8 273.19 L80.25 272.82 L80.7 272.81 L81.15 272.4 L81.6 272.37 L82.05 271.76 L82.5 271.54 L82.97 272.1 L83.45 271.69 L83.93 271.14 L84.4 270.74 L84.87 271.2 L85.33 270.46 L85.8 270.17 L86.3 271.3 L86.8 271.62 L87.3 273.3 L87.83 273.43 L88.37 273.81 L88.9 274.13 L89.35 274.79 L89.8 274.93 L90.25 275.29 L90.7 275.42 L91.15 275.91 L91.6 275.5 L92.05 275.56 L92.5 276.17 L92.97 276.27 L93.45 275.74 L93.93 276.06 L94.4 276.5 L94.85 276.12 L95.3 276.2 L95.75 275.59 L96.2 275.2 L96.65 275.46 L97.1 274.81 L97.55 274.71 L98 274.93 L98.45 273.77 L98.9 273.27 L99.35 272.8 L99.8 272.27 L100.25 271.82 L100.7 272.14 L101.15 271.28 L101.6 271.16 L102.07 270.82 L102.55 270.47 L103.03 271.2 L103.5 270.74 L103.95 271.03 L104.4 271.1 L104.85 271.36 L105.3 271.22 L105.75 270.83 L106.2 270.54 L106.65 270.93 L107.1 270.87 L107.55 270.81 L108 271.58 L108.45 271.63 L108.9 272 L109.35 271.75 L109.8 271.55 L110.25 271.62 L110.7 271.97 L111.15 271.76 L111.6 271.56 L112.05 271.15 L112.5 271.5 L112.97 271.43 L113.45 270.65 L113.93 270.34 L114.4 270.4 L114.85 270.11 L115.3 271 L115.75 270.85 L116.2 270.66 L116.65 271.84 L117.1 271.48 L117.55 271.95 L118 272.23 L118.45 272.31 L118.9 273.05 L119.35 272.72 L119.8 273.17 L120.25 273.42 L120.7 273.29 L121.15 273.58 L121.6 273.48 L122.07 273.34 L122.55 273.18 L123.03 273.02 L123.5 272.54 L123.95 273.08 L124.4 273.02 L124.85 272.38 L125.3 272.74 L125.75 272.58 L126.2 273.01 L126.65 273.06 L127.1 272.92 L127.55 273.11 L128 274.24 L128.45 274.39 L128.9 274.55 L129.35 275.01 L129.8 275.56 L130.25 275.95 L130.7 276.47 L131.15 276.44 L131.6 275.5 L132.05 275.76 L132.5 274.95 L132.97 275.08 L133.45 274.08 L133.93 274.04 L134.4 273.77 L134.85 273.5 L135.3 273.15 L135.75 272.98 L136.2 273.29 L136.65 273.32 L137.1 272.76 L137.55 272.86 L138 273.21 L138.45 273.7 L138.9 273.26 L139.35 273.43 L139.8 273.55 L140.25 274.59 L140.7 274.7 L141.15 275.5 L141.6 275.13 L142.07 276.09 L142.55 276.69 L143.03 276.29 L143.5 276.84 L143.95 276.96 L144.4 277.8 L144.85 278.01 L145.3 278.31 L145.75 279.01 L146.2 279.59 L146.65 279.92 L147.1 281.4 L147.55 280.71 L148 280.94 L148.45 281.55 L148.9 281.74 L149.35 281.58 L149.8 281.23 L150.25 280.98 L150.7 281.43 L151.15 280.67 L151.6 280.58 L152.05 280.95 L152.5 280.25 L152.97 280.16 L153.45 280.14 L153.93 280.55 L154.4 280.35 L154.85 279.64 L155.3 280.2 L155.75 280.32 L156.2 279.94 L156.65 279.7 L157.1 279.8 L157.55 280.1 L158 279.62 L158.5 279.68 L159 279.62 L159.5 279.34 L159.97 279.67 L160.43 280.11 L160.9 279.95 L161.4 280.82 L161.9 281.39 L162.4 281.37 L162.87 281.95 L163.33 281.67 L163.8 281.94 L164.3 282.18 L164.8 281.86 L165.3 281.16 L165.77 281.13 L166.23 280.39 L166.7 280.1 L167.2 280.38 L167.7 279.72 L168.2 278.78" stroke="#0000ff" stroke-width="1.05" fill="none" stroke-linejoin="round"/>
</g>
<path d="M38.12 325.3v-1.6M38.12 261v1.6M56.75 325.3v-1.6M56.75 261v1.6M75.38 325.3v-1.6M75.38 261v1.6M94 325.3v-1.6M94 261v1.6M112.62 325.3v-1.6M112.62 261v1.6M131.25 325.3v-1.6M131.25 261v1.6M149.88 325.3v-1.6M149.88 261v1.6M19.5 314.58h1.6M168.5 314.58h-1.6M19.5 303.87h1.6M168.5 303.87h-1.6M19.5 293.15h1.6M168.5 293.15h-1.6M19.5 282.43h1.6M168.5 282.43h-1.6M19.5 271.72h1.6M168.5 271.72h-1.6" stroke="#262626" stroke-width="0.6" fill="none"/>
<rect x="19.5" y="261" width="149" height="64.3" stroke="#262626" stroke-width="0.85" fill="none"/>
<text transform="translate(17 327.75) scale(0.86 1)" font-size="6.8" text-anchor="end" class="sf" fill="#000" stroke="#000" stroke-width="0.25">-15</text>
<text transform="translate(17 317.03) scale(0.86 1)" font-size="6.8" text-anchor="end" class="sf" fill="#000" stroke="#000" stroke-width="0.25">-10</text>
<text transform="translate(17 306.32) scale(0.86 1)" font-size="6.8" text-anchor="end" class="sf" fill="#000" stroke="#000" stroke-width="0.25">-5</text>
<text transform="translate(17 295.6) scale(0.86 1)" font-size="6.8" text-anchor="end" class="sf" fill="#000" stroke="#000" stroke-width="0.25">0</text>
<text transform="translate(17 284.88) scale(0.86 1)" font-size="6.8" text-anchor="end" class="sf" fill="#000" stroke="#000" stroke-width="0.25">5</text>
<text transform="translate(17 274.17) scale(0.86 1)" font-size="6.8" text-anchor="end" class="sf" fill="#000" stroke="#000" stroke-width="0.25">10</text>
<text transform="translate(17 263.45) scale(0.86 1)" font-size="6.8" text-anchor="end" class="sf" fill="#000" stroke="#000" stroke-width="0.25">15</text>
<text transform="translate(19.5 333.6) scale(0.86 1)" font-size="7.1" text-anchor="middle" class="sf" fill="#000" stroke="#000" stroke-width="0.25">0</text>
<text transform="translate(38.12 333.6) scale(0.86 1)" font-size="7.1" text-anchor="middle" class="sf" fill="#000" stroke="#000" stroke-width="0.25">0.5</text>
<text transform="translate(56.75 333.6) scale(0.86 1)" font-size="7.1" text-anchor="middle" class="sf" fill="#000" stroke="#000" stroke-width="0.25">1</text>
<text transform="translate(75.38 333.6) scale(0.86 1)" font-size="7.1" text-anchor="middle" class="sf" fill="#000" stroke="#000" stroke-width="0.25">1.5</text>
<text transform="translate(94 333.6) scale(0.86 1)" font-size="7.1" text-anchor="middle" class="sf" fill="#000" stroke="#000" stroke-width="0.25">2</text>
<text transform="translate(112.62 333.6) scale(0.86 1)" font-size="7.1" text-anchor="middle" class="sf" fill="#000" stroke="#000" stroke-width="0.25">2.5</text>
<text transform="translate(131.25 333.6) scale(0.86 1)" font-size="7.1" text-anchor="middle" class="sf" fill="#000" stroke="#000" stroke-width="0.25">3</text>
<text transform="translate(149.88 333.6) scale(0.86 1)" font-size="7.1" text-anchor="middle" class="sf" fill="#000" stroke="#000" stroke-width="0.25">3.5</text>
<text transform="translate(168.5 333.6) scale(0.86 1)" font-size="7.1" text-anchor="middle" class="sf" fill="#000" stroke="#000" stroke-width="0.25">4</text>
<text x="94" y="340.6" font-size="7.7" text-anchor="middle" class="sf" fill="#000" textLength="24.3" lengthAdjust="spacingAndGlyphs" stroke="#000" stroke-width="0.12">Time [s]</text>
<text x="85" y="354.7" font-size="12.0" text-anchor="middle" class="sf" fill="#222" textLength="73.2" lengthAdjust="spacingAndGlyphs" stroke="#222" stroke-width="0.2">(e) P1R2V28.2</text>
<text transform="translate(5.8 224.3) rotate(-90)" x="0" y="2" font-size="7.4" text-anchor="middle" class="sf" fill="#111" stroke="#111" stroke-width="0.18" textLength="26.5" lengthAdjust="spacingAndGlyphs"><tspan font-style="italic" font-size="8.14">V</tspan><tspan font-size="5.33" dy="1.63" font-style="italic">W</tspan><tspan dy="-1.63"> [m/s]</tspan></text>
<text transform="translate(3 293.2) rotate(-90)" x="0" y="2" font-size="7.4" text-anchor="middle" class="sf" fill="#555" stroke="#555" stroke-width="0.05" textLength="18" lengthAdjust="spacingAndGlyphs"><tspan font-style="italic" font-size="7.77">ψ</tspan><tspan font-size="5.33" dy="1.63" font-style="italic">W</tspan><tspan dy="-1.63"> [°]</tspan></text>
<rect x="99.6" y="194.3" width="65.2" height="8" fill="#fff" stroke="#262626" stroke-width="0.75"/>
<path d="M100.8 198.3H109.53" stroke="#0000ff" stroke-width="0.65"/>
<text x="110.33" y="200.42" font-size="5.9" text-anchor="start" class="ss" fill="#1a1a1a" textLength="10.83" lengthAdjust="spacingAndGlyphs" stroke="#1a1a1a" stroke-width="0.2">ASR</text>
<path d="M122.87 198.3H132.9" stroke="#222" stroke-width="0.75" stroke-dasharray="2 1.6"/>
<text x="132.6" y="200.42" font-size="5.9" text-anchor="start" class="ss" fill="#1a1a1a" textLength="7.12" lengthAdjust="spacingAndGlyphs" stroke="#1a1a1a" stroke-width="0.2">AS</text>
<path d="M141.53 198.3H150.76" stroke="#ff00ff" stroke-width="0.65"/>
<text x="151.26" y="200.42" font-size="5.9" text-anchor="start" class="ss" fill="#1a1a1a" textLength="12.04" lengthAdjust="spacingAndGlyphs" stroke="#1a1a1a" stroke-width="0.2">W+G</text>
</svg></body></html>
